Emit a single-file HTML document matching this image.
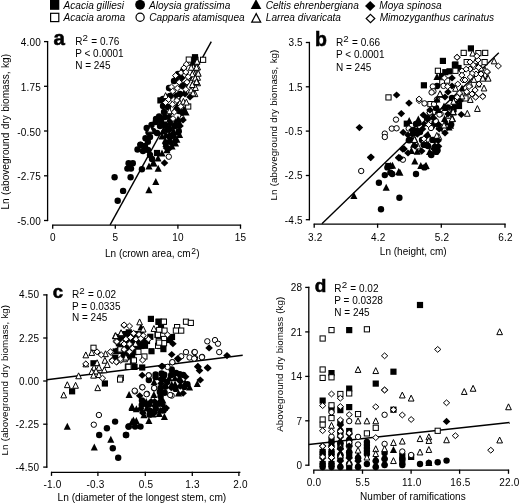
<!DOCTYPE html>
<html><head><meta charset="utf-8"><style>
html,body{margin:0;padding:0;background:#fff;}
svg{display:block;font-family:"Liberation Sans", sans-serif;filter:grayscale(100%);}
</style></head><body>
<svg width="519" height="503" viewBox="0 0 519 503">
<rect width="519" height="503" fill="#fff"/>
<rect x="50" y="-0.09999999999999964" width="9.3" height="9.9" fill="#000"/>
<text x="63.5" y="8.6" font-size="10.1" text-anchor="start" font-style="italic">Acacia gilliesi</text>
<rect x="50.6" y="13.3" width="8.2" height="8.3" fill="#fff" stroke="#000" stroke-width="1.2"/>
<text x="63.5" y="20.6" font-size="10.1" text-anchor="start" font-style="italic">Acacia aroma</text>
<circle cx="140.1" cy="4.8" r="4.9" fill="#000"/>
<text x="149" y="8.6" font-size="10.1" text-anchor="start" font-style="italic">Aloysia gratissima</text>
<circle cx="140.1" cy="17.3" r="4.1" fill="#fff" stroke="#000" stroke-width="1.2"/>
<text x="149.3" y="20.6" font-size="10.1" text-anchor="start" font-style="italic">Capparis atamisquea</text>
<polygon points="256,-0.9000000000000004 261.3,8.9 250.7,8.9" fill="#000"/>
<text x="265.7" y="8.6" font-size="10.1" text-anchor="start" font-style="italic">Celtis ehrenbergiana</text>
<polygon points="256.2,13.599999999999998 260.7,22.2 251.7,22.2" fill="#fff" stroke="#000" stroke-width="1.2"/>
<text x="265.8" y="20.6" font-size="10.1" text-anchor="start" font-style="italic">Larrea divaricata</text>
<polygon points="370.2,0.9000000000000004 375.4,5.9 370.2,10.9 365.0,5.9" fill="#000"/>
<text x="379.3" y="8.6" font-size="10.1" text-anchor="start" font-style="italic">Moya spinosa</text>
<polygon points="370.5,14.4 374.8,18.5 370.5,22.6 366.2,18.5" fill="#fff" stroke="#000" stroke-width="1.2"/>
<text x="379.7" y="20.6" font-size="10.1" text-anchor="start" font-style="italic">Mimozyganthus carinatus</text>
<line x1="47.6" y1="41.0" x2="47.6" y2="221.1" stroke="#000" stroke-width="1.3"/>
<line x1="44.0" y1="41.6" x2="48.1" y2="41.6" stroke="#000" stroke-width="1.3"/>
<text x="41.1" y="46.2" font-size="10" text-anchor="end" letter-spacing="0.2">4.00</text>
<line x1="44.0" y1="86.3" x2="48.1" y2="86.3" stroke="#000" stroke-width="1.3"/>
<text x="41.1" y="90.89999999999999" font-size="10" text-anchor="end" letter-spacing="0.2">1.75</text>
<line x1="44.0" y1="131.0" x2="48.1" y2="131.0" stroke="#000" stroke-width="1.3"/>
<text x="41.1" y="135.6" font-size="10" text-anchor="end" letter-spacing="0.2">-0.50</text>
<line x1="44.0" y1="175.8" x2="48.1" y2="175.8" stroke="#000" stroke-width="1.3"/>
<text x="41.1" y="180.4" font-size="10" text-anchor="end" letter-spacing="0.2">-2.75</text>
<line x1="44.0" y1="220.5" x2="48.1" y2="220.5" stroke="#000" stroke-width="1.3"/>
<text x="41.1" y="225.1" font-size="10" text-anchor="end" letter-spacing="0.2">-5.00</text>
<line x1="52.2" y1="225.2" x2="241.1" y2="225.2" stroke="#000" stroke-width="1.3"/>
<line x1="52.7" y1="224.7" x2="52.7" y2="228.79999999999998" stroke="#000" stroke-width="1.3"/>
<text x="52.800000000000004" y="240.89999999999998" font-size="10" text-anchor="middle" letter-spacing="0.2">0</text>
<line x1="115.3" y1="224.7" x2="115.3" y2="228.79999999999998" stroke="#000" stroke-width="1.3"/>
<text x="115.39999999999999" y="240.89999999999998" font-size="10" text-anchor="middle" letter-spacing="0.2">5</text>
<line x1="177.9" y1="224.7" x2="177.9" y2="228.79999999999998" stroke="#000" stroke-width="1.3"/>
<text x="178.0" y="240.89999999999998" font-size="10" text-anchor="middle" letter-spacing="0.2">10</text>
<line x1="240.5" y1="224.7" x2="240.5" y2="228.79999999999998" stroke="#000" stroke-width="1.3"/>
<text x="240.6" y="240.89999999999998" font-size="10" text-anchor="middle" letter-spacing="0.2">15</text>
<text x="0" y="0" font-size="10.1" text-anchor="middle" word-spacing="0.6" transform="translate(8.8,131.8) rotate(-90)">Ln (aboveground dry biomass, kg)</text>
<text x="152.3" y="257.0" font-size="10" text-anchor="middle">Ln (crown area, cm<tspan font-size="8.5" dy="-3.5" dx="0.6">2</tspan><tspan dy="3.5" dx="0.3">)</tspan></text>
<text x="53.6" y="44.6" font-size="20.5" font-weight="bold" stroke="#000" stroke-width="0.55">a</text>
<text x="75.2" y="44.5" font-size="10">R<tspan font-size="9.8" dy="-3.9" dx="0.1">2</tspan><tspan dy="3.9" dx="0.5"> = 0.76</tspan></text>
<text x="75.2" y="56.9" font-size="10" text-anchor="start" >P &lt; 0.0001</text>
<text x="75.2" y="69.0" font-size="10" text-anchor="start" >N = 245</text>
<line x1="309.4" y1="41.9" x2="309.4" y2="220.2" stroke="#000" stroke-width="1.3"/>
<line x1="305.79999999999995" y1="42.5" x2="309.9" y2="42.5" stroke="#000" stroke-width="1.3"/>
<text x="302.9" y="46.4" font-size="10" text-anchor="end" letter-spacing="0.2">3.5</text>
<line x1="305.79999999999995" y1="86.8" x2="309.9" y2="86.8" stroke="#000" stroke-width="1.3"/>
<text x="302.9" y="90.7" font-size="10" text-anchor="end" letter-spacing="0.2">1.5</text>
<line x1="305.79999999999995" y1="131.1" x2="309.9" y2="131.1" stroke="#000" stroke-width="1.3"/>
<text x="302.9" y="135.0" font-size="10" text-anchor="end" letter-spacing="0.2">-0.5</text>
<line x1="305.79999999999995" y1="175.5" x2="309.9" y2="175.5" stroke="#000" stroke-width="1.3"/>
<text x="302.9" y="179.4" font-size="10" text-anchor="end" letter-spacing="0.2">-2.5</text>
<line x1="305.79999999999995" y1="219.7" x2="309.9" y2="219.7" stroke="#000" stroke-width="1.3"/>
<text x="302.9" y="223.6" font-size="10" text-anchor="end" letter-spacing="0.2">-4.5</text>
<line x1="313.7" y1="224.2" x2="505.6" y2="224.2" stroke="#000" stroke-width="1.3"/>
<line x1="314.2" y1="223.7" x2="314.2" y2="227.79999999999998" stroke="#000" stroke-width="1.3"/>
<text x="315.2" y="240.89999999999998" font-size="10" text-anchor="middle" letter-spacing="0.2">3.2</text>
<line x1="377.6" y1="223.7" x2="377.6" y2="227.79999999999998" stroke="#000" stroke-width="1.3"/>
<text x="378.3" y="240.89999999999998" font-size="10" text-anchor="middle" letter-spacing="0.2">4.2</text>
<line x1="441.3" y1="223.7" x2="441.3" y2="227.79999999999998" stroke="#000" stroke-width="1.3"/>
<text x="442.0" y="240.89999999999998" font-size="10" text-anchor="middle" letter-spacing="0.2">5.2</text>
<line x1="505.0" y1="223.7" x2="505.0" y2="227.79999999999998" stroke="#000" stroke-width="1.3"/>
<text x="505.6" y="240.89999999999998" font-size="10" text-anchor="middle" letter-spacing="0.2">6.2</text>
<text x="0" y="0" font-size="9.77" text-anchor="middle" word-spacing="0.6" transform="translate(276.6,125.1) rotate(-90)">Ln (aboveground dry biomass, kg)</text>
<text x="413.2" y="255.4" font-size="10" text-anchor="middle">Ln (height, cm)</text>
<text x="315.0" y="45.5" font-size="19.5" font-weight="bold" stroke="#000" stroke-width="0.55">b</text>
<text x="336.0" y="45.6" font-size="10">R<tspan font-size="9.8" dy="-3.9" dx="0.1">2</tspan><tspan dy="3.9" dx="0.5"> = 0.66</tspan></text>
<text x="336.0" y="58.3" font-size="10" text-anchor="start" >P &lt; 0.0001</text>
<text x="336.0" y="70.5" font-size="10" text-anchor="start" >N = 245</text>
<line x1="46.8" y1="294.3" x2="46.8" y2="467.7" stroke="#000" stroke-width="1.3"/>
<line x1="43.199999999999996" y1="294.9" x2="47.3" y2="294.9" stroke="#000" stroke-width="1.3"/>
<text x="39.3" y="298.4" font-size="10" text-anchor="end" letter-spacing="0.2">4.50</text>
<line x1="43.199999999999996" y1="338.0" x2="47.3" y2="338.0" stroke="#000" stroke-width="1.3"/>
<text x="39.3" y="341.5" font-size="10" text-anchor="end" letter-spacing="0.2">2.25</text>
<line x1="43.199999999999996" y1="381.0" x2="47.3" y2="381.0" stroke="#000" stroke-width="1.3"/>
<text x="39.3" y="384.5" font-size="10" text-anchor="end" letter-spacing="0.2">0.00</text>
<line x1="43.199999999999996" y1="424.2" x2="47.3" y2="424.2" stroke="#000" stroke-width="1.3"/>
<text x="39.3" y="427.7" font-size="10" text-anchor="end" letter-spacing="0.2">-2.25</text>
<line x1="43.199999999999996" y1="467.1" x2="47.3" y2="467.1" stroke="#000" stroke-width="1.3"/>
<text x="39.3" y="470.6" font-size="10" text-anchor="end" letter-spacing="0.2">-4.50</text>
<line x1="51.0" y1="472.3" x2="240.4" y2="472.3" stroke="#000" stroke-width="1.3"/>
<line x1="51.5" y1="471.8" x2="51.5" y2="475.90000000000003" stroke="#000" stroke-width="1.3"/>
<text x="52.4" y="488.0" font-size="10" text-anchor="middle" letter-spacing="0.2">-1.0</text>
<line x1="97.9" y1="471.8" x2="97.9" y2="475.90000000000003" stroke="#000" stroke-width="1.3"/>
<text x="95.6" y="488.0" font-size="10" text-anchor="middle" letter-spacing="0.2">-0.3</text>
<line x1="145.3" y1="471.8" x2="145.3" y2="475.90000000000003" stroke="#000" stroke-width="1.3"/>
<text x="146.0" y="488.0" font-size="10" text-anchor="middle" letter-spacing="0.2">0.5</text>
<line x1="192.3" y1="471.8" x2="192.3" y2="475.90000000000003" stroke="#000" stroke-width="1.3"/>
<text x="192.6" y="488.0" font-size="10" text-anchor="middle" letter-spacing="0.2">1.3</text>
<line x1="238.9" y1="471.8" x2="238.9" y2="475.90000000000003" stroke="#000" stroke-width="1.3"/>
<text x="240.4" y="488.0" font-size="10" text-anchor="middle" letter-spacing="0.2">2.0</text>
<text x="0" y="0" font-size="9.77" text-anchor="middle" word-spacing="0.6" transform="translate(7.5,380.25) rotate(-90)">Ln (aboveground dry biomass, kg)</text>
<text x="141.9" y="500.6" font-size="10.2" text-anchor="middle">Ln (diameter of the longest stem, cm)</text>
<text x="52.8" y="297.8" font-size="18.6" font-weight="bold" stroke="#000" stroke-width="0.55">c</text>
<text x="72.0" y="297.5" font-size="10">R<tspan font-size="9.8" dy="-3.9" dx="0.1">2</tspan><tspan dy="3.9" dx="0.5"> = 0.02</tspan></text>
<text x="72.0" y="309.7" font-size="10" text-anchor="start" >P = 0.0335</text>
<text x="72.0" y="321.4" font-size="10" text-anchor="start" >N = 245</text>
<line x1="308.8" y1="286.8" x2="308.8" y2="465.8" stroke="#000" stroke-width="1.3"/>
<line x1="305.2" y1="287.4" x2="309.3" y2="287.4" stroke="#000" stroke-width="1.3"/>
<text x="302.3" y="291.2" font-size="10" text-anchor="end" letter-spacing="0.2">28</text>
<line x1="305.2" y1="331.9" x2="309.3" y2="331.9" stroke="#000" stroke-width="1.3"/>
<text x="302.3" y="335.7" font-size="10" text-anchor="end" letter-spacing="0.2">21</text>
<line x1="305.2" y1="376.4" x2="309.3" y2="376.4" stroke="#000" stroke-width="1.3"/>
<text x="302.3" y="380.2" font-size="10" text-anchor="end" letter-spacing="0.2">14</text>
<line x1="305.2" y1="420.8" x2="309.3" y2="420.8" stroke="#000" stroke-width="1.3"/>
<text x="302.3" y="424.6" font-size="10" text-anchor="end" letter-spacing="0.2">7</text>
<line x1="305.2" y1="465.2" x2="309.3" y2="465.2" stroke="#000" stroke-width="1.3"/>
<text x="302.3" y="469.0" font-size="10" text-anchor="end" letter-spacing="0.2">0</text>
<line x1="313.3" y1="470.2" x2="509.1" y2="470.2" stroke="#000" stroke-width="1.3"/>
<line x1="313.8" y1="469.7" x2="313.8" y2="473.8" stroke="#000" stroke-width="1.3"/>
<text x="313.9" y="485.9" font-size="10" text-anchor="middle" letter-spacing="0.2">0.0</text>
<line x1="362.5" y1="469.7" x2="362.5" y2="473.8" stroke="#000" stroke-width="1.3"/>
<text x="362.8" y="485.9" font-size="10" text-anchor="middle" letter-spacing="0.2">5.5</text>
<line x1="411.1" y1="469.7" x2="411.1" y2="473.8" stroke="#000" stroke-width="1.3"/>
<text x="411.7" y="485.9" font-size="10" text-anchor="middle" letter-spacing="0.2">11.0</text>
<line x1="459.6" y1="469.7" x2="459.6" y2="473.8" stroke="#000" stroke-width="1.3"/>
<text x="460.5" y="485.9" font-size="10" text-anchor="middle" letter-spacing="0.2">16.5</text>
<line x1="508.5" y1="469.7" x2="508.5" y2="473.8" stroke="#000" stroke-width="1.3"/>
<text x="509.4" y="485.9" font-size="10" text-anchor="middle" letter-spacing="0.2">22.0</text>
<text x="0" y="0" font-size="9.77" text-anchor="middle" word-spacing="0.6" transform="translate(283.4,364.25) rotate(-90)">Aboveground dry biomass (kg)</text>
<text x="412.9" y="499.9" font-size="10" text-anchor="middle">Number of ramifications</text>
<text x="314.8" y="292.4" font-size="19" font-weight="bold" stroke="#000" stroke-width="0.55">d</text>
<text x="334.3" y="291.5" font-size="10">R<tspan font-size="9.8" dy="-3.9" dx="0.1">2</tspan><tspan dy="3.9" dx="0.5"> = 0.02</tspan></text>
<text x="334.3" y="303.6" font-size="10" text-anchor="start" >P = 0.0328</text>
<text x="334.3" y="315.5" font-size="10" text-anchor="start" >N = 245</text>
<line x1="110.1" y1="224.9" x2="211.3" y2="41.7" stroke="#000" stroke-width="1.4"/>
<line x1="321.9" y1="223.7" x2="498.8" y2="52.7" stroke="#000" stroke-width="1.4"/>
<line x1="46.8" y1="379.8" x2="242.7" y2="355.3" stroke="#000" stroke-width="1.4"/>
<line x1="308.7" y1="444.5" x2="509.5" y2="422.5" stroke="#000" stroke-width="1.4"/>
<rect x="192.30" y="56.70" width="6.20" height="6.20" fill="#000"/>
<rect x="191.90" y="54.10" width="6.20" height="6.20" fill="#000"/>
<rect x="157.30" y="97.30" width="6.20" height="6.20" fill="#000"/>
<rect x="153.90" y="149.90" width="6.20" height="6.20" fill="#000"/>
<rect x="385.20" y="162.90" width="6.20" height="6.20" fill="#000"/>
<rect x="467.80" y="45.30" width="6.20" height="6.20" fill="#000"/>
<rect x="439.80" y="57.80" width="6.20" height="6.20" fill="#000"/>
<rect x="451.80" y="61.90" width="6.20" height="6.20" fill="#000"/>
<rect x="455.40" y="64.90" width="6.20" height="6.20" fill="#000"/>
<rect x="452.30" y="61.40" width="6.20" height="6.20" fill="#000"/>
<rect x="442.20" y="69.10" width="6.20" height="6.20" fill="#000"/>
<rect x="446.40" y="68.20" width="6.20" height="6.20" fill="#000"/>
<rect x="438.90" y="72.90" width="6.20" height="6.20" fill="#000"/>
<rect x="420.80" y="82.20" width="6.20" height="6.20" fill="#000"/>
<rect x="451.90" y="100.90" width="6.20" height="6.20" fill="#000"/>
<rect x="455.90" y="102.90" width="6.20" height="6.20" fill="#000"/>
<rect x="403.70" y="120.60" width="6.20" height="6.20" fill="#000"/>
<rect x="450.47" y="106.02" width="6.20" height="6.20" fill="#000"/>
<rect x="424.15" y="115.28" width="6.20" height="6.20" fill="#000"/>
<rect x="431.49" y="120.73" width="6.20" height="6.20" fill="#000"/>
<rect x="117.70" y="335.10" width="6.20" height="6.20" fill="#000"/>
<rect x="112.10" y="355.00" width="6.20" height="6.20" fill="#000"/>
<rect x="90.40" y="360.20" width="6.20" height="6.20" fill="#000"/>
<rect x="101.80" y="380.40" width="6.20" height="6.20" fill="#000"/>
<rect x="69.00" y="388.20" width="6.20" height="6.20" fill="#000"/>
<rect x="147.80" y="315.80" width="6.20" height="6.20" fill="#000"/>
<rect x="155.60" y="318.80" width="6.20" height="6.20" fill="#000"/>
<rect x="148.40" y="348.10" width="6.20" height="6.20" fill="#000"/>
<rect x="141.90" y="342.70" width="6.20" height="6.20" fill="#000"/>
<rect x="147.20" y="333.70" width="6.20" height="6.20" fill="#000"/>
<rect x="143.90" y="337.90" width="6.20" height="6.20" fill="#000"/>
<rect x="155.50" y="318.60" width="6.20" height="6.20" fill="#000"/>
<rect x="157.90" y="323.90" width="6.20" height="6.20" fill="#000"/>
<rect x="168.90" y="333.90" width="6.20" height="6.20" fill="#000"/>
<rect x="166.90" y="336.90" width="6.20" height="6.20" fill="#000"/>
<rect x="160.30" y="346.00" width="6.20" height="6.20" fill="#000"/>
<rect x="156.90" y="342.90" width="6.20" height="6.20" fill="#000"/>
<rect x="131.40" y="363.80" width="6.20" height="6.20" fill="#000"/>
<rect x="139.10" y="364.40" width="6.20" height="6.20" fill="#000"/>
<rect x="122.09" y="330.97" width="6.20" height="6.20" fill="#000"/>
<rect x="125.68" y="329.28" width="6.20" height="6.20" fill="#000"/>
<rect x="130.00" y="330.87" width="6.20" height="6.20" fill="#000"/>
<rect x="133.26" y="330.98" width="6.20" height="6.20" fill="#000"/>
<rect x="138.00" y="331.43" width="6.20" height="6.20" fill="#000"/>
<rect x="116.16" y="334.06" width="6.20" height="6.20" fill="#000"/>
<rect x="120.83" y="335.67" width="6.20" height="6.20" fill="#000"/>
<rect x="126.07" y="334.20" width="6.20" height="6.20" fill="#000"/>
<rect x="128.99" y="334.84" width="6.20" height="6.20" fill="#000"/>
<rect x="133.68" y="335.92" width="6.20" height="6.20" fill="#000"/>
<rect x="138.40" y="335.99" width="6.20" height="6.20" fill="#000"/>
<rect x="115.84" y="340.20" width="6.20" height="6.20" fill="#000"/>
<rect x="121.42" y="340.58" width="6.20" height="6.20" fill="#000"/>
<rect x="124.21" y="338.37" width="6.20" height="6.20" fill="#000"/>
<rect x="130.07" y="338.96" width="6.20" height="6.20" fill="#000"/>
<rect x="133.63" y="338.61" width="6.20" height="6.20" fill="#000"/>
<rect x="139.70" y="339.00" width="6.20" height="6.20" fill="#000"/>
<rect x="117.42" y="343.12" width="6.20" height="6.20" fill="#000"/>
<rect x="120.60" y="344.34" width="6.20" height="6.20" fill="#000"/>
<rect x="125.18" y="345.07" width="6.20" height="6.20" fill="#000"/>
<rect x="130.82" y="343.88" width="6.20" height="6.20" fill="#000"/>
<rect x="134.80" y="344.95" width="6.20" height="6.20" fill="#000"/>
<rect x="138.09" y="342.87" width="6.20" height="6.20" fill="#000"/>
<rect x="112.56" y="348.36" width="6.20" height="6.20" fill="#000"/>
<rect x="115.33" y="347.82" width="6.20" height="6.20" fill="#000"/>
<rect x="119.78" y="347.80" width="6.20" height="6.20" fill="#000"/>
<rect x="124.37" y="348.01" width="6.20" height="6.20" fill="#000"/>
<rect x="131.06" y="348.99" width="6.20" height="6.20" fill="#000"/>
<rect x="133.32" y="347.54" width="6.20" height="6.20" fill="#000"/>
<rect x="120.72" y="353.09" width="6.20" height="6.20" fill="#000"/>
<rect x="124.94" y="352.98" width="6.20" height="6.20" fill="#000"/>
<rect x="129.03" y="353.43" width="6.20" height="6.20" fill="#000"/>
<rect x="319.55" y="397.50" width="6.20" height="6.20" fill="#000"/>
<rect x="319.55" y="460.90" width="6.20" height="6.20" fill="#000"/>
<rect x="319.55" y="448.90" width="6.20" height="6.20" fill="#000"/>
<rect x="328.40" y="370.00" width="6.20" height="6.20" fill="#000"/>
<rect x="328.40" y="406.40" width="6.20" height="6.20" fill="#000"/>
<rect x="328.40" y="460.90" width="6.20" height="6.20" fill="#000"/>
<rect x="328.40" y="448.90" width="6.20" height="6.20" fill="#000"/>
<rect x="328.40" y="436.90" width="6.20" height="6.20" fill="#000"/>
<rect x="337.25" y="407.00" width="6.20" height="6.20" fill="#000"/>
<rect x="337.25" y="454.90" width="6.20" height="6.20" fill="#000"/>
<rect x="337.25" y="442.90" width="6.20" height="6.20" fill="#000"/>
<rect x="337.25" y="430.90" width="6.20" height="6.20" fill="#000"/>
<rect x="337.25" y="418.90" width="6.20" height="6.20" fill="#000"/>
<rect x="346.10" y="327.00" width="6.20" height="6.20" fill="#000"/>
<rect x="346.10" y="385.50" width="6.20" height="6.20" fill="#000"/>
<rect x="346.10" y="404.00" width="6.20" height="6.20" fill="#000"/>
<rect x="346.10" y="463.90" width="6.20" height="6.20" fill="#000"/>
<rect x="346.10" y="451.90" width="6.20" height="6.20" fill="#000"/>
<rect x="346.10" y="439.90" width="6.20" height="6.20" fill="#000"/>
<rect x="346.10" y="427.90" width="6.20" height="6.20" fill="#000"/>
<rect x="372.65" y="380.50" width="6.20" height="6.20" fill="#000"/>
<rect x="390.35" y="368.60" width="6.20" height="6.20" fill="#000"/>
<rect x="390.35" y="406.60" width="6.20" height="6.20" fill="#000"/>
<rect x="399.20" y="458.90" width="6.20" height="6.20" fill="#000"/>
<rect x="399.20" y="452.90" width="6.20" height="6.20" fill="#000"/>
<rect x="408.05" y="453.80" width="6.20" height="6.20" fill="#000"/>
<rect x="416.90" y="301.90" width="6.20" height="6.20" fill="#000"/>
<rect x="186.20" y="57.00" width="5.20" height="5.20" fill="#fff" stroke="#000" stroke-width="1.0"/>
<rect x="200.50" y="57.20" width="5.20" height="5.20" fill="#fff" stroke="#000" stroke-width="1.0"/>
<rect x="185.60" y="103.90" width="5.20" height="5.20" fill="#fff" stroke="#000" stroke-width="1.0"/>
<rect x="385.90" y="94.80" width="5.20" height="5.20" fill="#fff" stroke="#000" stroke-width="1.0"/>
<rect x="427.80" y="101.50" width="5.20" height="5.20" fill="#fff" stroke="#000" stroke-width="1.0"/>
<rect x="461.10" y="50.30" width="5.20" height="5.20" fill="#fff" stroke="#000" stroke-width="1.0"/>
<rect x="475.80" y="50.50" width="5.20" height="5.20" fill="#fff" stroke="#000" stroke-width="1.0"/>
<rect x="482.60" y="50.30" width="5.20" height="5.20" fill="#fff" stroke="#000" stroke-width="1.0"/>
<rect x="464.10" y="59.50" width="5.20" height="5.20" fill="#fff" stroke="#000" stroke-width="1.0"/>
<rect x="482.00" y="59.50" width="5.20" height="5.20" fill="#fff" stroke="#000" stroke-width="1.0"/>
<rect x="452.80" y="68.20" width="5.20" height="5.20" fill="#fff" stroke="#000" stroke-width="1.0"/>
<rect x="435.30" y="68.20" width="5.20" height="5.20" fill="#fff" stroke="#000" stroke-width="1.0"/>
<rect x="439.70" y="79.70" width="5.20" height="5.20" fill="#fff" stroke="#000" stroke-width="1.0"/>
<rect x="444.50" y="78.00" width="5.20" height="5.20" fill="#fff" stroke="#000" stroke-width="1.0"/>
<rect x="462.90" y="95.80" width="5.20" height="5.20" fill="#fff" stroke="#000" stroke-width="1.0"/>
<rect x="117.40" y="347.50" width="5.20" height="5.20" fill="#fff" stroke="#000" stroke-width="1.0"/>
<rect x="90.90" y="345.20" width="5.20" height="5.20" fill="#fff" stroke="#000" stroke-width="1.0"/>
<rect x="125.30" y="364.20" width="5.20" height="5.20" fill="#fff" stroke="#000" stroke-width="1.0"/>
<rect x="118.20" y="375.30" width="5.20" height="5.20" fill="#fff" stroke="#000" stroke-width="1.0"/>
<rect x="160.90" y="319.30" width="5.20" height="5.20" fill="#fff" stroke="#000" stroke-width="1.0"/>
<rect x="117.90" y="346.80" width="5.20" height="5.20" fill="#fff" stroke="#000" stroke-width="1.0"/>
<rect x="156.10" y="338.40" width="5.20" height="5.20" fill="#fff" stroke="#000" stroke-width="1.0"/>
<rect x="155.50" y="343.20" width="5.20" height="5.20" fill="#fff" stroke="#000" stroke-width="1.0"/>
<rect x="154.90" y="332.40" width="5.20" height="5.20" fill="#fff" stroke="#000" stroke-width="1.0"/>
<rect x="135.80" y="349.20" width="5.20" height="5.20" fill="#fff" stroke="#000" stroke-width="1.0"/>
<rect x="141.80" y="353.90" width="5.20" height="5.20" fill="#fff" stroke="#000" stroke-width="1.0"/>
<rect x="130.40" y="358.10" width="5.20" height="5.20" fill="#fff" stroke="#000" stroke-width="1.0"/>
<rect x="125.70" y="364.10" width="5.20" height="5.20" fill="#fff" stroke="#000" stroke-width="1.0"/>
<rect x="161.30" y="319.10" width="5.20" height="5.20" fill="#fff" stroke="#000" stroke-width="1.0"/>
<rect x="183.40" y="319.10" width="5.20" height="5.20" fill="#fff" stroke="#000" stroke-width="1.0"/>
<rect x="188.20" y="320.30" width="5.20" height="5.20" fill="#fff" stroke="#000" stroke-width="1.0"/>
<rect x="174.50" y="324.50" width="5.20" height="5.20" fill="#fff" stroke="#000" stroke-width="1.0"/>
<rect x="173.30" y="328.00" width="5.20" height="5.20" fill="#fff" stroke="#000" stroke-width="1.0"/>
<rect x="178.60" y="328.00" width="5.20" height="5.20" fill="#fff" stroke="#000" stroke-width="1.0"/>
<rect x="161.90" y="328.00" width="5.20" height="5.20" fill="#fff" stroke="#000" stroke-width="1.0"/>
<rect x="156.60" y="327.40" width="5.20" height="5.20" fill="#fff" stroke="#000" stroke-width="1.0"/>
<rect x="155.40" y="332.20" width="5.20" height="5.20" fill="#fff" stroke="#000" stroke-width="1.0"/>
<rect x="161.40" y="336.40" width="5.20" height="5.20" fill="#fff" stroke="#000" stroke-width="1.0"/>
<rect x="161.40" y="340.60" width="5.20" height="5.20" fill="#fff" stroke="#000" stroke-width="1.0"/>
<rect x="156.60" y="340.00" width="5.20" height="5.20" fill="#fff" stroke="#000" stroke-width="1.0"/>
<rect x="117.50" y="376.90" width="5.20" height="5.20" fill="#fff" stroke="#000" stroke-width="1.0"/>
<rect x="131.30" y="357.80" width="5.20" height="5.20" fill="#fff" stroke="#000" stroke-width="1.0"/>
<rect x="125.90" y="364.30" width="5.20" height="5.20" fill="#fff" stroke="#000" stroke-width="1.0"/>
<rect x="320.05" y="335.90" width="5.20" height="5.20" fill="#fff" stroke="#000" stroke-width="1.0"/>
<rect x="320.05" y="366.90" width="5.20" height="5.20" fill="#fff" stroke="#000" stroke-width="1.0"/>
<rect x="320.05" y="375.30" width="5.20" height="5.20" fill="#fff" stroke="#000" stroke-width="1.0"/>
<rect x="320.05" y="416.90" width="5.20" height="5.20" fill="#fff" stroke="#000" stroke-width="1.0"/>
<rect x="320.05" y="422.10" width="5.20" height="5.20" fill="#fff" stroke="#000" stroke-width="1.0"/>
<rect x="328.90" y="327.50" width="5.20" height="5.20" fill="#fff" stroke="#000" stroke-width="1.0"/>
<rect x="328.90" y="374.70" width="5.20" height="5.20" fill="#fff" stroke="#000" stroke-width="1.0"/>
<rect x="328.90" y="402.70" width="5.20" height="5.20" fill="#fff" stroke="#000" stroke-width="1.0"/>
<rect x="328.90" y="415.50" width="5.20" height="5.20" fill="#fff" stroke="#000" stroke-width="1.0"/>
<rect x="337.75" y="391.40" width="5.20" height="5.20" fill="#fff" stroke="#000" stroke-width="1.0"/>
<rect x="346.60" y="390.80" width="5.20" height="5.20" fill="#fff" stroke="#000" stroke-width="1.0"/>
<rect x="355.45" y="411.50" width="5.20" height="5.20" fill="#fff" stroke="#000" stroke-width="1.0"/>
<rect x="364.30" y="326.70" width="5.20" height="5.20" fill="#fff" stroke="#000" stroke-width="1.0"/>
<rect x="364.30" y="430.80" width="5.20" height="5.20" fill="#fff" stroke="#000" stroke-width="1.0"/>
<rect x="373.15" y="425.20" width="5.20" height="5.20" fill="#fff" stroke="#000" stroke-width="1.0"/>
<rect x="435.10" y="428.20" width="5.20" height="5.20" fill="#fff" stroke="#000" stroke-width="1.0"/>
<circle cx="183.00" cy="71.00" r="3.20" fill="#000"/>
<circle cx="178.00" cy="74.00" r="3.20" fill="#000"/>
<circle cx="176.00" cy="80.00" r="3.20" fill="#000"/>
<circle cx="174.00" cy="81.00" r="3.20" fill="#000"/>
<circle cx="169.00" cy="88.00" r="3.20" fill="#000"/>
<circle cx="180.00" cy="94.00" r="3.20" fill="#000"/>
<circle cx="170.00" cy="96.00" r="3.20" fill="#000"/>
<circle cx="163.00" cy="99.00" r="3.20" fill="#000"/>
<circle cx="163.00" cy="106.00" r="3.20" fill="#000"/>
<circle cx="168.00" cy="107.00" r="3.20" fill="#000"/>
<circle cx="164.00" cy="112.00" r="3.20" fill="#000"/>
<circle cx="179.00" cy="111.00" r="3.20" fill="#000"/>
<circle cx="165.00" cy="117.00" r="3.20" fill="#000"/>
<circle cx="156.00" cy="119.00" r="3.20" fill="#000"/>
<circle cx="161.00" cy="121.00" r="3.20" fill="#000"/>
<circle cx="159.10" cy="116.50" r="3.20" fill="#000"/>
<circle cx="160.00" cy="126.00" r="3.20" fill="#000"/>
<circle cx="155.60" cy="122.10" r="3.20" fill="#000"/>
<circle cx="151.50" cy="125.00" r="3.20" fill="#000"/>
<circle cx="153.00" cy="131.00" r="3.20" fill="#000"/>
<circle cx="157.00" cy="133.00" r="3.20" fill="#000"/>
<circle cx="146.70" cy="128.00" r="3.20" fill="#000"/>
<circle cx="148.50" cy="132.20" r="3.20" fill="#000"/>
<circle cx="150.00" cy="137.00" r="3.20" fill="#000"/>
<circle cx="145.50" cy="138.20" r="3.20" fill="#000"/>
<circle cx="145.00" cy="146.00" r="3.20" fill="#000"/>
<circle cx="140.40" cy="144.60" r="3.20" fill="#000"/>
<circle cx="147.90" cy="141.80" r="3.20" fill="#000"/>
<circle cx="137.50" cy="149.50" r="3.20" fill="#000"/>
<circle cx="143.00" cy="151.00" r="3.20" fill="#000"/>
<circle cx="148.00" cy="150.00" r="3.20" fill="#000"/>
<circle cx="150.00" cy="155.00" r="3.20" fill="#000"/>
<circle cx="152.00" cy="159.00" r="3.20" fill="#000"/>
<circle cx="140.60" cy="145.00" r="3.20" fill="#000"/>
<circle cx="128.60" cy="163.30" r="3.20" fill="#000"/>
<circle cx="132.80" cy="163.30" r="3.20" fill="#000"/>
<circle cx="127.40" cy="168.60" r="3.20" fill="#000"/>
<circle cx="131.00" cy="168.60" r="3.20" fill="#000"/>
<circle cx="130.00" cy="166.00" r="3.20" fill="#000"/>
<circle cx="141.90" cy="169.20" r="3.20" fill="#000"/>
<circle cx="114.60" cy="177.20" r="3.20" fill="#000"/>
<circle cx="130.60" cy="177.20" r="3.20" fill="#000"/>
<circle cx="123.10" cy="190.90" r="3.20" fill="#000"/>
<circle cx="117.70" cy="200.80" r="3.20" fill="#000"/>
<circle cx="170.39" cy="120.58" r="3.20" fill="#000"/>
<circle cx="164.98" cy="125.06" r="3.20" fill="#000"/>
<circle cx="174.54" cy="126.28" r="3.20" fill="#000"/>
<circle cx="178.80" cy="131.19" r="3.20" fill="#000"/>
<circle cx="169.94" cy="135.96" r="3.20" fill="#000"/>
<circle cx="165.79" cy="143.23" r="3.20" fill="#000"/>
<circle cx="381.00" cy="209.30" r="3.20" fill="#000"/>
<circle cx="424.40" cy="167.40" r="3.20" fill="#000"/>
<circle cx="416.00" cy="174.00" r="3.20" fill="#000"/>
<circle cx="392.20" cy="174.00" r="3.20" fill="#000"/>
<circle cx="387.40" cy="167.40" r="3.20" fill="#000"/>
<circle cx="390.40" cy="172.60" r="3.20" fill="#000"/>
<circle cx="384.80" cy="175.10" r="3.20" fill="#000"/>
<circle cx="378.90" cy="182.70" r="3.20" fill="#000"/>
<circle cx="399.40" cy="197.70" r="3.20" fill="#000"/>
<circle cx="437.00" cy="86.00" r="3.20" fill="#000"/>
<circle cx="452.00" cy="98.00" r="3.20" fill="#000"/>
<circle cx="451.20" cy="124.60" r="3.20" fill="#000"/>
<circle cx="436.00" cy="108.00" r="3.20" fill="#000"/>
<circle cx="427.00" cy="118.00" r="3.20" fill="#000"/>
<circle cx="432.00" cy="126.00" r="3.20" fill="#000"/>
<circle cx="416.00" cy="124.00" r="3.20" fill="#000"/>
<circle cx="420.00" cy="132.00" r="3.20" fill="#000"/>
<circle cx="434.00" cy="140.00" r="3.20" fill="#000"/>
<circle cx="422.00" cy="140.00" r="3.20" fill="#000"/>
<circle cx="428.00" cy="146.00" r="3.20" fill="#000"/>
<circle cx="410.00" cy="140.00" r="3.20" fill="#000"/>
<circle cx="430.90" cy="154.30" r="3.20" fill="#000"/>
<circle cx="436.30" cy="151.90" r="3.20" fill="#000"/>
<circle cx="424.40" cy="144.80" r="3.20" fill="#000"/>
<circle cx="435.10" cy="147.20" r="3.20" fill="#000"/>
<circle cx="435.50" cy="150.80" r="3.20" fill="#000"/>
<circle cx="431.30" cy="155.00" r="3.20" fill="#000"/>
<circle cx="423.60" cy="144.80" r="3.20" fill="#000"/>
<circle cx="447.89" cy="107.51" r="3.20" fill="#000"/>
<circle cx="418.23" cy="123.17" r="3.20" fill="#000"/>
<circle cx="413.00" cy="133.63" r="3.20" fill="#000"/>
<circle cx="408.85" cy="140.32" r="3.20" fill="#000"/>
<circle cx="432.36" cy="139.89" r="3.20" fill="#000"/>
<circle cx="437.56" cy="150.21" r="3.20" fill="#000"/>
<circle cx="148.80" cy="380.00" r="3.20" fill="#000"/>
<circle cx="163.70" cy="375.90" r="3.20" fill="#000"/>
<circle cx="154.20" cy="412.30" r="3.20" fill="#000"/>
<circle cx="128.60" cy="426.60" r="3.20" fill="#000"/>
<circle cx="135.10" cy="426.60" r="3.20" fill="#000"/>
<circle cx="140.50" cy="426.60" r="3.20" fill="#000"/>
<circle cx="126.20" cy="435.00" r="3.20" fill="#000"/>
<circle cx="115.10" cy="421.60" r="3.20" fill="#000"/>
<circle cx="106.90" cy="428.20" r="3.20" fill="#000"/>
<circle cx="99.20" cy="435.00" r="3.20" fill="#000"/>
<circle cx="112.80" cy="448.20" r="3.20" fill="#000"/>
<circle cx="118.20" cy="457.80" r="3.20" fill="#000"/>
<circle cx="125.90" cy="435.00" r="3.20" fill="#000"/>
<circle cx="128.70" cy="426.50" r="3.20" fill="#000"/>
<circle cx="171.73" cy="369.45" r="3.20" fill="#000"/>
<circle cx="155.58" cy="374.49" r="3.20" fill="#000"/>
<circle cx="161.55" cy="373.43" r="3.20" fill="#000"/>
<circle cx="164.31" cy="374.71" r="3.20" fill="#000"/>
<circle cx="171.22" cy="374.98" r="3.20" fill="#000"/>
<circle cx="176.12" cy="372.97" r="3.20" fill="#000"/>
<circle cx="179.72" cy="374.13" r="3.20" fill="#000"/>
<circle cx="183.25" cy="375.01" r="3.20" fill="#000"/>
<circle cx="155.60" cy="377.14" r="3.20" fill="#000"/>
<circle cx="167.17" cy="381.89" r="3.20" fill="#000"/>
<circle cx="187.41" cy="384.14" r="3.20" fill="#000"/>
<circle cx="160.53" cy="388.01" r="3.20" fill="#000"/>
<circle cx="165.24" cy="386.85" r="3.20" fill="#000"/>
<circle cx="175.57" cy="388.89" r="3.20" fill="#000"/>
<circle cx="184.30" cy="387.12" r="3.20" fill="#000"/>
<circle cx="159.80" cy="391.98" r="3.20" fill="#000"/>
<circle cx="164.69" cy="392.69" r="3.20" fill="#000"/>
<circle cx="160.57" cy="396.31" r="3.20" fill="#000"/>
<circle cx="141.95" cy="400.47" r="3.20" fill="#000"/>
<circle cx="141.74" cy="404.88" r="3.20" fill="#000"/>
<circle cx="148.89" cy="404.75" r="3.20" fill="#000"/>
<circle cx="159.07" cy="403.87" r="3.20" fill="#000"/>
<circle cx="150.08" cy="410.89" r="3.20" fill="#000"/>
<circle cx="155.84" cy="408.64" r="3.20" fill="#000"/>
<circle cx="163.44" cy="410.39" r="3.20" fill="#000"/>
<circle cx="149.65" cy="414.67" r="3.20" fill="#000"/>
<circle cx="322.65" cy="467.00" r="3.20" fill="#000"/>
<circle cx="322.65" cy="455.00" r="3.20" fill="#000"/>
<circle cx="331.50" cy="467.00" r="3.20" fill="#000"/>
<circle cx="331.50" cy="455.00" r="3.20" fill="#000"/>
<circle cx="331.50" cy="443.00" r="3.20" fill="#000"/>
<circle cx="340.35" cy="467.00" r="3.20" fill="#000"/>
<circle cx="340.35" cy="455.00" r="3.20" fill="#000"/>
<circle cx="340.35" cy="443.00" r="3.20" fill="#000"/>
<circle cx="340.35" cy="431.00" r="3.20" fill="#000"/>
<circle cx="349.20" cy="464.00" r="3.20" fill="#000"/>
<circle cx="349.20" cy="452.00" r="3.20" fill="#000"/>
<circle cx="349.20" cy="440.00" r="3.20" fill="#000"/>
<circle cx="358.05" cy="467.00" r="3.20" fill="#000"/>
<circle cx="358.05" cy="458.00" r="3.20" fill="#000"/>
<circle cx="366.90" cy="454.00" r="3.20" fill="#000"/>
<circle cx="366.90" cy="451.00" r="3.20" fill="#000"/>
<circle cx="366.90" cy="448.00" r="3.20" fill="#000"/>
<circle cx="366.90" cy="445.00" r="3.20" fill="#000"/>
<circle cx="366.90" cy="442.00" r="3.20" fill="#000"/>
<circle cx="366.90" cy="464.00" r="3.20" fill="#000"/>
<circle cx="375.75" cy="467.00" r="3.20" fill="#000"/>
<circle cx="375.75" cy="461.00" r="3.20" fill="#000"/>
<circle cx="384.60" cy="465.00" r="3.20" fill="#000"/>
<circle cx="384.60" cy="459.00" r="3.20" fill="#000"/>
<circle cx="384.60" cy="453.00" r="3.20" fill="#000"/>
<circle cx="402.30" cy="465.00" r="3.20" fill="#000"/>
<circle cx="402.30" cy="459.00" r="3.20" fill="#000"/>
<circle cx="420.00" cy="464.00" r="3.20" fill="#000"/>
<circle cx="428.85" cy="462.90" r="3.20" fill="#000"/>
<circle cx="437.70" cy="462.20" r="3.20" fill="#000"/>
<circle cx="446.55" cy="460.60" r="3.20" fill="#000"/>
<circle cx="168.80" cy="156.70" r="2.70" fill="#fff" stroke="#000" stroke-width="1.0"/>
<circle cx="361.20" cy="171.00" r="2.70" fill="#fff" stroke="#000" stroke-width="1.0"/>
<circle cx="384.80" cy="133.60" r="2.70" fill="#fff" stroke="#000" stroke-width="1.0"/>
<circle cx="384.80" cy="137.00" r="2.70" fill="#fff" stroke="#000" stroke-width="1.0"/>
<circle cx="391.80" cy="128.60" r="2.70" fill="#fff" stroke="#000" stroke-width="1.0"/>
<circle cx="396.60" cy="128.30" r="2.70" fill="#fff" stroke="#000" stroke-width="1.0"/>
<circle cx="396.00" cy="119.60" r="2.70" fill="#fff" stroke="#000" stroke-width="1.0"/>
<circle cx="424.50" cy="103.40" r="2.70" fill="#fff" stroke="#000" stroke-width="1.0"/>
<circle cx="434.00" cy="104.10" r="2.70" fill="#fff" stroke="#000" stroke-width="1.0"/>
<circle cx="402.90" cy="159.70" r="2.70" fill="#fff" stroke="#000" stroke-width="1.0"/>
<circle cx="432.80" cy="86.50" r="2.70" fill="#fff" stroke="#000" stroke-width="1.0"/>
<circle cx="433.40" cy="91.30" r="2.70" fill="#fff" stroke="#000" stroke-width="1.0"/>
<circle cx="443.50" cy="85.90" r="2.70" fill="#fff" stroke="#000" stroke-width="1.0"/>
<circle cx="431.60" cy="92.40" r="2.70" fill="#fff" stroke="#000" stroke-width="1.0"/>
<circle cx="437.00" cy="99.50" r="2.70" fill="#fff" stroke="#000" stroke-width="1.0"/>
<circle cx="429.80" cy="112.70" r="2.70" fill="#fff" stroke="#000" stroke-width="1.0"/>
<circle cx="440.60" cy="113.90" r="2.70" fill="#fff" stroke="#000" stroke-width="1.0"/>
<circle cx="435.80" cy="121.00" r="2.70" fill="#fff" stroke="#000" stroke-width="1.0"/>
<circle cx="408.70" cy="128.50" r="2.70" fill="#fff" stroke="#000" stroke-width="1.0"/>
<circle cx="429.80" cy="112.40" r="2.70" fill="#fff" stroke="#000" stroke-width="1.0"/>
<circle cx="439.50" cy="114.50" r="2.70" fill="#fff" stroke="#000" stroke-width="1.0"/>
<circle cx="431.00" cy="128.00" r="2.70" fill="#fff" stroke="#000" stroke-width="1.0"/>
<circle cx="181.20" cy="356.30" r="2.70" fill="#fff" stroke="#000" stroke-width="1.0"/>
<circle cx="186.00" cy="352.10" r="2.70" fill="#fff" stroke="#000" stroke-width="1.0"/>
<circle cx="194.40" cy="352.10" r="2.70" fill="#fff" stroke="#000" stroke-width="1.0"/>
<circle cx="189.60" cy="357.50" r="2.70" fill="#fff" stroke="#000" stroke-width="1.0"/>
<circle cx="195.00" cy="358.10" r="2.70" fill="#fff" stroke="#000" stroke-width="1.0"/>
<circle cx="202.10" cy="356.90" r="2.70" fill="#fff" stroke="#000" stroke-width="1.0"/>
<circle cx="207.30" cy="341.30" r="2.70" fill="#fff" stroke="#000" stroke-width="1.0"/>
<circle cx="215.00" cy="340.10" r="2.70" fill="#fff" stroke="#000" stroke-width="1.0"/>
<circle cx="218.00" cy="343.70" r="2.70" fill="#fff" stroke="#000" stroke-width="1.0"/>
<circle cx="219.20" cy="352.10" r="2.70" fill="#fff" stroke="#000" stroke-width="1.0"/>
<circle cx="194.80" cy="352.10" r="2.70" fill="#fff" stroke="#000" stroke-width="1.0"/>
<circle cx="194.20" cy="358.60" r="2.70" fill="#fff" stroke="#000" stroke-width="1.0"/>
<circle cx="201.90" cy="357.20" r="2.70" fill="#fff" stroke="#000" stroke-width="1.0"/>
<circle cx="172.30" cy="362.30" r="2.70" fill="#fff" stroke="#000" stroke-width="1.0"/>
<circle cx="148.80" cy="375.30" r="2.70" fill="#fff" stroke="#000" stroke-width="1.0"/>
<circle cx="142.20" cy="387.20" r="2.70" fill="#fff" stroke="#000" stroke-width="1.0"/>
<circle cx="135.00" cy="391.40" r="2.70" fill="#fff" stroke="#000" stroke-width="1.0"/>
<circle cx="154.10" cy="388.40" r="2.70" fill="#fff" stroke="#000" stroke-width="1.0"/>
<circle cx="147.00" cy="393.80" r="2.70" fill="#fff" stroke="#000" stroke-width="1.0"/>
<circle cx="167.50" cy="366.90" r="2.70" fill="#fff" stroke="#000" stroke-width="1.0"/>
<circle cx="172.30" cy="362.20" r="2.70" fill="#fff" stroke="#000" stroke-width="1.0"/>
<circle cx="171.70" cy="395.60" r="2.70" fill="#fff" stroke="#000" stroke-width="1.0"/>
<circle cx="98.90" cy="415.00" r="2.70" fill="#fff" stroke="#000" stroke-width="1.0"/>
<circle cx="93.80" cy="424.70" r="2.70" fill="#fff" stroke="#000" stroke-width="1.0"/>
<circle cx="148.70" cy="375.40" r="2.70" fill="#fff" stroke="#000" stroke-width="1.0"/>
<circle cx="142.40" cy="387.30" r="2.70" fill="#fff" stroke="#000" stroke-width="1.0"/>
<circle cx="134.70" cy="390.70" r="2.70" fill="#fff" stroke="#000" stroke-width="1.0"/>
<circle cx="146.60" cy="394.20" r="2.70" fill="#fff" stroke="#000" stroke-width="1.0"/>
<circle cx="154.20" cy="388.00" r="2.70" fill="#fff" stroke="#000" stroke-width="1.0"/>
<circle cx="170.20" cy="395.00" r="2.70" fill="#fff" stroke="#000" stroke-width="1.0"/>
<circle cx="331.50" cy="412.20" r="2.70" fill="#fff" stroke="#000" stroke-width="1.0"/>
<circle cx="331.50" cy="436.60" r="2.70" fill="#fff" stroke="#000" stroke-width="1.0"/>
<circle cx="349.20" cy="421.10" r="2.70" fill="#fff" stroke="#000" stroke-width="1.0"/>
<circle cx="349.20" cy="442.60" r="2.70" fill="#fff" stroke="#000" stroke-width="1.0"/>
<circle cx="349.20" cy="446.80" r="2.70" fill="#fff" stroke="#000" stroke-width="1.0"/>
<circle cx="358.05" cy="436.90" r="2.70" fill="#fff" stroke="#000" stroke-width="1.0"/>
<circle cx="358.05" cy="444.50" r="2.70" fill="#fff" stroke="#000" stroke-width="1.0"/>
<circle cx="384.60" cy="414.80" r="2.70" fill="#fff" stroke="#000" stroke-width="1.0"/>
<circle cx="384.60" cy="443.90" r="2.70" fill="#fff" stroke="#000" stroke-width="1.0"/>
<circle cx="402.30" cy="451.50" r="2.70" fill="#fff" stroke="#000" stroke-width="1.0"/>
<circle cx="411.15" cy="455.00" r="2.70" fill="#fff" stroke="#000" stroke-width="1.0"/>
<polygon points="192.50,59.00 196.05,66.00 188.95,66.00" fill="#000"/>
<polygon points="184.00,105.50 187.55,112.50 180.45,112.50" fill="#000"/>
<polygon points="186.00,108.50 189.55,115.50 182.45,115.50" fill="#000"/>
<polygon points="178.00,115.50 181.55,122.50 174.45,122.50" fill="#000"/>
<polygon points="165.00,120.50 168.55,127.50 161.45,127.50" fill="#000"/>
<polygon points="175.00,121.50 178.55,128.50 171.45,128.50" fill="#000"/>
<polygon points="163.00,127.50 166.55,134.50 159.45,134.50" fill="#000"/>
<polygon points="173.00,129.50 176.55,136.50 169.45,136.50" fill="#000"/>
<polygon points="178.00,128.50 181.55,135.50 174.45,135.50" fill="#000"/>
<polygon points="162.00,132.50 165.55,139.50 158.45,139.50" fill="#000"/>
<polygon points="176.90,135.80 180.45,142.80 173.35,142.80" fill="#000"/>
<polygon points="166.00,140.10 169.55,147.10 162.45,147.10" fill="#000"/>
<polygon points="172.00,142.50 175.55,149.50 168.45,149.50" fill="#000"/>
<polygon points="166.90,146.20 170.45,153.20 163.35,153.20" fill="#000"/>
<polygon points="162.00,149.50 165.55,156.50 158.45,156.50" fill="#000"/>
<polygon points="158.00,154.50 161.55,161.50 154.45,161.50" fill="#000"/>
<polygon points="149.00,162.50 152.55,169.50 145.45,169.50" fill="#000"/>
<polygon points="153.90,159.40 157.45,166.40 150.35,166.40" fill="#000"/>
<polygon points="158.20,164.70 161.75,171.70 154.65,171.70" fill="#000"/>
<polygon points="155.80,178.10 159.35,185.10 152.25,185.10" fill="#000"/>
<polygon points="148.90,186.20 152.45,193.20 145.35,193.20" fill="#000"/>
<polygon points="153.10,159.20 156.65,166.20 149.55,166.20" fill="#000"/>
<polygon points="175.43,118.31 178.98,125.31 171.88,125.31" fill="#000"/>
<polygon points="179.25,118.66 182.80,125.66 175.70,125.66" fill="#000"/>
<polygon points="169.65,122.68 173.20,129.68 166.10,129.68" fill="#000"/>
<polygon points="173.56,127.13 177.11,134.13 170.01,134.13" fill="#000"/>
<polygon points="165.87,130.93 169.42,137.93 162.32,137.93" fill="#000"/>
<polygon points="174.34,131.63 177.89,138.63 170.79,138.63" fill="#000"/>
<polygon points="179.56,131.04 183.11,138.04 176.01,138.04" fill="#000"/>
<polygon points="165.32,136.85 168.87,143.85 161.77,143.85" fill="#000"/>
<polygon points="169.49,135.20 173.04,142.20 165.94,142.20" fill="#000"/>
<polygon points="174.43,135.97 177.98,142.97 170.88,142.97" fill="#000"/>
<polygon points="175.50,139.54 179.05,146.54 171.95,146.54" fill="#000"/>
<polygon points="353.90,192.10 357.45,199.10 350.35,199.10" fill="#000"/>
<polygon points="414.80,157.40 418.35,164.40 411.25,164.40" fill="#000"/>
<polygon points="420.80,162.10 424.35,169.10 417.25,169.10" fill="#000"/>
<polygon points="426.20,162.10 429.75,169.10 422.65,169.10" fill="#000"/>
<polygon points="399.90,168.70 403.45,175.70 396.35,175.70" fill="#000"/>
<polygon points="390.40,162.10 393.95,169.10 386.85,169.10" fill="#000"/>
<polygon points="392.50,161.80 396.05,168.80 388.95,168.80" fill="#000"/>
<polygon points="398.70,168.10 402.25,175.10 395.15,175.10" fill="#000"/>
<polygon points="386.20,183.80 389.75,190.80 382.65,190.80" fill="#000"/>
<polygon points="477.00,60.50 480.55,67.50 473.45,67.50" fill="#000"/>
<polygon points="437.00,72.90 440.55,79.90 433.45,79.90" fill="#000"/>
<polygon points="462.00,84.50 465.55,91.50 458.45,91.50" fill="#000"/>
<polygon points="437.00,95.50 440.55,102.50 433.45,102.50" fill="#000"/>
<polygon points="444.00,102.50 447.55,109.50 440.45,109.50" fill="#000"/>
<polygon points="433.00,112.50 436.55,119.50 429.45,119.50" fill="#000"/>
<polygon points="446.00,118.50 449.55,125.50 442.45,125.50" fill="#000"/>
<polygon points="428.00,130.50 431.55,137.50 424.45,137.50" fill="#000"/>
<polygon points="449.00,123.50 452.55,130.50 445.45,130.50" fill="#000"/>
<polygon points="413.00,136.10 416.55,143.10 409.45,143.10" fill="#000"/>
<polygon points="417.20,147.80 420.75,154.80 413.65,154.80" fill="#000"/>
<polygon points="425.40,162.20 428.95,169.20 421.85,169.20" fill="#000"/>
<polygon points="409.20,117.10 412.75,124.10 405.65,124.10" fill="#000"/>
<polygon points="438.38,106.00 441.93,113.00 434.83,113.00" fill="#000"/>
<polygon points="445.29,104.00 448.84,111.00 441.74,111.00" fill="#000"/>
<polygon points="418.32,115.45 421.87,122.45 414.77,122.45" fill="#000"/>
<polygon points="444.56,114.99 448.11,121.99 441.01,121.99" fill="#000"/>
<polygon points="450.52,121.63 454.07,128.63 446.97,128.63" fill="#000"/>
<polygon points="413.58,140.81 417.13,147.81 410.03,147.81" fill="#000"/>
<polygon points="428.04,140.60 431.59,147.60 424.49,147.60" fill="#000"/>
<polygon points="411.40,146.97 414.95,153.97 407.85,153.97" fill="#000"/>
<polygon points="429.57,147.89 433.12,154.89 426.02,154.89" fill="#000"/>
<polygon points="141.00,323.50 144.55,330.50 137.45,330.50" fill="#000"/>
<polygon points="197.30,380.10 200.85,387.10 193.75,387.10" fill="#000"/>
<polygon points="154.10,378.30 157.65,385.30 150.55,385.30" fill="#000"/>
<polygon points="129.10,390.90 132.65,397.90 125.55,397.90" fill="#000"/>
<polygon points="132.10,404.00 135.65,411.00 128.55,411.00" fill="#000"/>
<polygon points="164.30,404.00 167.85,411.00 160.75,411.00" fill="#000"/>
<polygon points="164.40,403.40 167.95,410.40 160.85,410.40" fill="#000"/>
<polygon points="164.40,413.00 167.95,420.00 160.85,420.00" fill="#000"/>
<polygon points="148.90,417.10 152.45,424.10 145.35,424.10" fill="#000"/>
<polygon points="133.40,416.50 136.95,423.50 129.85,423.50" fill="#000"/>
<polygon points="136.30,417.10 139.85,424.10 132.75,424.10" fill="#000"/>
<polygon points="67.30,422.70 70.85,429.70 63.75,429.70" fill="#000"/>
<polygon points="110.80,435.80 114.35,442.80 107.25,442.80" fill="#000"/>
<polygon points="94.30,443.50 97.85,450.50 90.75,450.50" fill="#000"/>
<polygon points="132.00,418.10 135.55,425.10 128.45,425.10" fill="#000"/>
<polygon points="132.00,402.70 135.55,409.70 128.45,409.70" fill="#000"/>
<polygon points="164.31,375.23 167.86,382.23 160.76,382.23" fill="#000"/>
<polygon points="169.10,374.27 172.65,381.27 165.55,381.27" fill="#000"/>
<polygon points="174.94,374.15 178.49,381.15 171.39,381.15" fill="#000"/>
<polygon points="179.52,373.73 183.07,380.73 175.97,380.73" fill="#000"/>
<polygon points="171.69,380.63 175.24,387.63 168.14,387.63" fill="#000"/>
<polygon points="175.04,380.48 178.59,387.48 171.49,387.48" fill="#000"/>
<polygon points="185.04,378.90 188.59,385.90 181.49,385.90" fill="#000"/>
<polygon points="189.52,383.43 193.07,390.43 185.97,390.43" fill="#000"/>
<polygon points="178.55,389.53 182.10,396.53 175.00,396.53" fill="#000"/>
<polygon points="153.91,390.88 157.46,397.88 150.36,397.88" fill="#000"/>
<polygon points="146.18,397.94 149.73,404.94 142.63,404.94" fill="#000"/>
<polygon points="160.43,395.29 163.98,402.29 156.88,402.29" fill="#000"/>
<polygon points="162.83,396.49 166.38,403.49 159.28,403.49" fill="#000"/>
<polygon points="136.36,405.32 139.91,412.32 132.81,412.32" fill="#000"/>
<polygon points="146.70,404.56 150.25,411.56 143.15,411.56" fill="#000"/>
<polygon points="160.18,406.41 163.73,413.41 156.63,413.41" fill="#000"/>
<polygon points="143.96,411.24 147.51,418.24 140.41,418.24" fill="#000"/>
<polygon points="152.96,410.61 156.51,417.61 149.41,417.61" fill="#000"/>
<polygon points="159.27,410.08 162.82,417.08 155.72,417.08" fill="#000"/>
<polygon points="322.65,457.50 326.20,464.50 319.10,464.50" fill="#000"/>
<polygon points="322.65,445.50 326.20,452.50 319.10,452.50" fill="#000"/>
<polygon points="331.50,457.50 335.05,464.50 327.95,464.50" fill="#000"/>
<polygon points="331.50,445.50 335.05,452.50 327.95,452.50" fill="#000"/>
<polygon points="340.35,460.50 343.90,467.50 336.80,467.50" fill="#000"/>
<polygon points="340.35,448.50 343.90,455.50 336.80,455.50" fill="#000"/>
<polygon points="340.35,436.50 343.90,443.50 336.80,443.50" fill="#000"/>
<polygon points="340.35,424.50 343.90,431.50 336.80,431.50" fill="#000"/>
<polygon points="349.20,457.50 352.75,464.50 345.65,464.50" fill="#000"/>
<polygon points="349.20,445.50 352.75,452.50 345.65,452.50" fill="#000"/>
<polygon points="349.20,433.50 352.75,440.50 345.65,440.50" fill="#000"/>
<polygon points="358.05,460.50 361.60,467.50 354.50,467.50" fill="#000"/>
<polygon points="358.05,451.50 361.60,458.50 354.50,458.50" fill="#000"/>
<polygon points="375.75,460.50 379.30,467.50 372.20,467.50" fill="#000"/>
<polygon points="375.75,454.50 379.30,461.50 372.20,461.50" fill="#000"/>
<polygon points="384.60,458.50 388.15,465.50 381.05,465.50" fill="#000"/>
<polygon points="384.60,452.50 388.15,459.50 381.05,459.50" fill="#000"/>
<polygon points="393.45,445.90 397.00,452.90 389.90,452.90" fill="#000"/>
<polygon points="428.85,459.00 432.40,466.00 425.30,466.00" fill="#000"/>
<polygon points="193.40,64.05 196.25,69.95 190.55,69.95" fill="#fff" stroke="#000" stroke-width="1.0"/>
<polygon points="197.70,64.05 200.55,69.95 194.85,69.95" fill="#fff" stroke="#000" stroke-width="1.0"/>
<polygon points="193.40,69.45 196.25,75.35 190.55,75.35" fill="#fff" stroke="#000" stroke-width="1.0"/>
<polygon points="197.70,69.45 200.55,75.35 194.85,75.35" fill="#fff" stroke="#000" stroke-width="1.0"/>
<polygon points="193.40,74.35 196.25,80.25 190.55,80.25" fill="#fff" stroke="#000" stroke-width="1.0"/>
<polygon points="197.70,74.35 200.55,80.25 194.85,80.25" fill="#fff" stroke="#000" stroke-width="1.0"/>
<polygon points="193.40,79.85 196.25,85.75 190.55,85.75" fill="#fff" stroke="#000" stroke-width="1.0"/>
<polygon points="197.70,79.85 200.55,85.75 194.85,85.75" fill="#fff" stroke="#000" stroke-width="1.0"/>
<polygon points="195.50,84.55 198.35,90.45 192.65,90.45" fill="#fff" stroke="#000" stroke-width="1.0"/>
<polygon points="191.00,87.05 193.85,92.95 188.15,92.95" fill="#fff" stroke="#000" stroke-width="1.0"/>
<polygon points="195.00,90.75 197.85,96.65 192.15,96.65" fill="#fff" stroke="#000" stroke-width="1.0"/>
<polygon points="197.10,58.35 199.95,64.25 194.25,64.25" fill="#fff" stroke="#000" stroke-width="1.0"/>
<polygon points="191.20,64.35 194.05,70.25 188.35,70.25" fill="#fff" stroke="#000" stroke-width="1.0"/>
<polygon points="196.50,64.35 199.35,70.25 193.65,70.25" fill="#fff" stroke="#000" stroke-width="1.0"/>
<polygon points="192.30,70.95 195.15,76.85 189.45,76.85" fill="#fff" stroke="#000" stroke-width="1.0"/>
<polygon points="198.30,70.35 201.15,76.25 195.45,76.25" fill="#fff" stroke="#000" stroke-width="1.0"/>
<polygon points="195.30,75.05 198.15,80.95 192.45,80.95" fill="#fff" stroke="#000" stroke-width="1.0"/>
<polygon points="196.50,78.65 199.35,84.55 193.65,84.55" fill="#fff" stroke="#000" stroke-width="1.0"/>
<polygon points="192.30,81.65 195.15,87.55 189.45,87.55" fill="#fff" stroke="#000" stroke-width="1.0"/>
<polygon points="193.00,90.05 195.85,95.95 190.15,95.95" fill="#fff" stroke="#000" stroke-width="1.0"/>
<polygon points="165.60,92.65 168.45,98.55 162.75,98.55" fill="#fff" stroke="#000" stroke-width="1.0"/>
<polygon points="179.90,99.65 182.75,105.55 177.05,105.55" fill="#fff" stroke="#000" stroke-width="1.0"/>
<polygon points="183.40,98.35 186.25,104.25 180.55,104.25" fill="#fff" stroke="#000" stroke-width="1.0"/>
<polygon points="186.40,99.15 189.25,105.05 183.55,105.05" fill="#fff" stroke="#000" stroke-width="1.0"/>
<polygon points="169.50,107.85 172.35,113.75 166.65,113.75" fill="#fff" stroke="#000" stroke-width="1.0"/>
<polygon points="182.10,113.05 184.95,118.95 179.25,118.95" fill="#fff" stroke="#000" stroke-width="1.0"/>
<polygon points="150.30,126.25 153.15,132.15 147.45,132.15" fill="#fff" stroke="#000" stroke-width="1.0"/>
<polygon points="481.00,65.05 483.85,70.95 478.15,70.95" fill="#fff" stroke="#000" stroke-width="1.0"/>
<polygon points="485.00,67.05 487.85,72.95 482.15,72.95" fill="#fff" stroke="#000" stroke-width="1.0"/>
<polygon points="470.00,81.05 472.85,86.95 467.15,86.95" fill="#fff" stroke="#000" stroke-width="1.0"/>
<polygon points="484.00,85.05 486.85,90.95 481.15,90.95" fill="#fff" stroke="#000" stroke-width="1.0"/>
<polygon points="462.00,93.05 464.85,98.95 459.15,98.95" fill="#fff" stroke="#000" stroke-width="1.0"/>
<polygon points="487.40,74.55 490.25,80.45 484.55,80.45" fill="#fff" stroke="#000" stroke-width="1.0"/>
<polygon points="482.90,74.55 485.75,80.45 480.05,80.45" fill="#fff" stroke="#000" stroke-width="1.0"/>
<polygon points="472.70,50.15 475.55,56.05 469.85,56.05" fill="#fff" stroke="#000" stroke-width="1.0"/>
<polygon points="475.60,57.95 478.45,63.85 472.75,63.85" fill="#fff" stroke="#000" stroke-width="1.0"/>
<polygon points="494.10,57.95 496.95,63.85 491.25,63.85" fill="#fff" stroke="#000" stroke-width="1.0"/>
<polygon points="478.00,81.05 480.85,86.95 475.15,86.95" fill="#fff" stroke="#000" stroke-width="1.0"/>
<polygon points="482.80,75.25 485.65,81.15 479.95,81.15" fill="#fff" stroke="#000" stroke-width="1.0"/>
<polygon points="488.20,75.25 491.05,81.15 485.35,81.15" fill="#fff" stroke="#000" stroke-width="1.0"/>
<polygon points="473.90,76.45 476.75,82.35 471.05,82.35" fill="#fff" stroke="#000" stroke-width="1.0"/>
<polygon points="466.70,88.35 469.55,94.25 463.85,94.25" fill="#fff" stroke="#000" stroke-width="1.0"/>
<polygon points="455.50,85.35 458.35,91.25 452.65,91.25" fill="#fff" stroke="#000" stroke-width="1.0"/>
<polygon points="440.60,91.35 443.45,97.25 437.75,97.25" fill="#fff" stroke="#000" stroke-width="1.0"/>
<polygon points="440.00,90.65 442.85,96.55 437.15,96.55" fill="#fff" stroke="#000" stroke-width="1.0"/>
<polygon points="477.40,105.55 480.25,111.45 474.55,111.45" fill="#fff" stroke="#000" stroke-width="1.0"/>
<polygon points="467.30,110.35 470.15,116.25 464.45,116.25" fill="#fff" stroke="#000" stroke-width="1.0"/>
<polygon points="453.60,109.15 456.45,115.05 450.75,115.05" fill="#fff" stroke="#000" stroke-width="1.0"/>
<polygon points="453.60,98.35 456.45,104.25 450.75,104.25" fill="#fff" stroke="#000" stroke-width="1.0"/>
<polygon points="470.30,96.55 473.15,102.45 467.45,102.45" fill="#fff" stroke="#000" stroke-width="1.0"/>
<polygon points="452.40,115.65 455.25,121.55 449.55,121.55" fill="#fff" stroke="#000" stroke-width="1.0"/>
<polygon points="448.90,108.55 451.75,114.45 446.05,114.45" fill="#fff" stroke="#000" stroke-width="1.0"/>
<polygon points="453.10,108.55 455.95,114.45 450.25,114.45" fill="#fff" stroke="#000" stroke-width="1.0"/>
<polygon points="449.50,112.05 452.35,117.95 446.65,117.95" fill="#fff" stroke="#000" stroke-width="1.0"/>
<polygon points="452.50,115.65 455.35,121.55 449.65,121.55" fill="#fff" stroke="#000" stroke-width="1.0"/>
<polygon points="439.40,122.85 442.25,128.75 436.55,128.75" fill="#fff" stroke="#000" stroke-width="1.0"/>
<polygon points="444.10,125.25 446.95,131.15 441.25,131.15" fill="#fff" stroke="#000" stroke-width="1.0"/>
<polygon points="438.80,133.55 441.65,139.45 435.95,139.45" fill="#fff" stroke="#000" stroke-width="1.0"/>
<polygon points="414.90,136.55 417.75,142.45 412.05,142.45" fill="#fff" stroke="#000" stroke-width="1.0"/>
<polygon points="439.10,122.75 441.95,128.65 436.25,128.65" fill="#fff" stroke="#000" stroke-width="1.0"/>
<polygon points="444.50,125.15 447.35,131.05 441.65,131.05" fill="#fff" stroke="#000" stroke-width="1.0"/>
<polygon points="444.00,122.05 446.85,127.95 441.15,127.95" fill="#fff" stroke="#000" stroke-width="1.0"/>
<polygon points="436.80,132.45 439.65,138.35 433.95,138.35" fill="#fff" stroke="#000" stroke-width="1.0"/>
<polygon points="425.60,119.85 428.45,125.75 422.75,125.75" fill="#fff" stroke="#000" stroke-width="1.0"/>
<polygon points="414.50,136.55 417.35,142.45 411.65,142.45" fill="#fff" stroke="#000" stroke-width="1.0"/>
<polygon points="424.20,136.55 427.05,142.45 421.35,142.45" fill="#fff" stroke="#000" stroke-width="1.0"/>
<polygon points="448.60,112.25 451.45,118.15 445.75,118.15" fill="#fff" stroke="#000" stroke-width="1.0"/>
<polygon points="452.10,115.75 454.95,121.65 449.25,121.65" fill="#fff" stroke="#000" stroke-width="1.0"/>
<polygon points="418.00,143.05 420.85,148.95 415.15,148.95" fill="#fff" stroke="#000" stroke-width="1.0"/>
<polygon points="120.80,330.45 123.65,336.35 117.95,336.35" fill="#fff" stroke="#000" stroke-width="1.0"/>
<polygon points="115.20,332.85 118.05,338.75 112.35,338.75" fill="#fff" stroke="#000" stroke-width="1.0"/>
<polygon points="85.80,351.95 88.65,357.85 82.95,357.85" fill="#fff" stroke="#000" stroke-width="1.0"/>
<polygon points="91.80,349.55 94.65,355.45 88.95,355.45" fill="#fff" stroke="#000" stroke-width="1.0"/>
<polygon points="105.50,350.75 108.35,356.65 102.65,356.65" fill="#fff" stroke="#000" stroke-width="1.0"/>
<polygon points="124.80,355.85 127.65,361.75 121.95,361.75" fill="#fff" stroke="#000" stroke-width="1.0"/>
<polygon points="85.80,360.95 88.65,366.85 82.95,366.85" fill="#fff" stroke="#000" stroke-width="1.0"/>
<polygon points="97.10,359.75 99.95,365.65 94.25,365.65" fill="#fff" stroke="#000" stroke-width="1.0"/>
<polygon points="104.90,357.35 107.75,363.25 102.05,363.25" fill="#fff" stroke="#000" stroke-width="1.0"/>
<polygon points="107.30,361.55 110.15,367.45 104.45,367.45" fill="#fff" stroke="#000" stroke-width="1.0"/>
<polygon points="94.10,364.45 96.95,370.35 91.25,370.35" fill="#fff" stroke="#000" stroke-width="1.0"/>
<polygon points="98.90,364.45 101.75,370.35 96.05,370.35" fill="#fff" stroke="#000" stroke-width="1.0"/>
<polygon points="104.30,366.85 107.15,372.75 101.45,372.75" fill="#fff" stroke="#000" stroke-width="1.0"/>
<polygon points="91.80,368.65 94.65,374.55 88.95,374.55" fill="#fff" stroke="#000" stroke-width="1.0"/>
<polygon points="96.00,368.05 98.85,373.95 93.15,373.95" fill="#fff" stroke="#000" stroke-width="1.0"/>
<polygon points="93.50,372.25 96.35,378.15 90.65,378.15" fill="#fff" stroke="#000" stroke-width="1.0"/>
<polygon points="98.90,371.65 101.75,377.55 96.05,377.55" fill="#fff" stroke="#000" stroke-width="1.0"/>
<polygon points="97.70,384.75 100.55,390.65 94.85,390.65" fill="#fff" stroke="#000" stroke-width="1.0"/>
<polygon points="78.60,372.85 81.45,378.75 75.75,378.75" fill="#fff" stroke="#000" stroke-width="1.0"/>
<polygon points="67.30,381.75 70.15,387.65 64.45,387.65" fill="#fff" stroke="#000" stroke-width="1.0"/>
<polygon points="75.60,382.35 78.45,388.25 72.75,388.25" fill="#fff" stroke="#000" stroke-width="1.0"/>
<polygon points="63.70,391.95 66.55,397.85 60.85,397.85" fill="#fff" stroke="#000" stroke-width="1.0"/>
<polygon points="139.60,318.95 142.45,324.85 136.75,324.85" fill="#fff" stroke="#000" stroke-width="1.0"/>
<polygon points="153.90,325.55 156.75,331.45 151.05,331.45" fill="#fff" stroke="#000" stroke-width="1.0"/>
<polygon points="143.20,326.15 146.05,332.05 140.35,332.05" fill="#fff" stroke="#000" stroke-width="1.0"/>
<polygon points="121.10,329.75 123.95,335.65 118.25,335.65" fill="#fff" stroke="#000" stroke-width="1.0"/>
<polygon points="115.70,332.65 118.55,338.55 112.85,338.55" fill="#fff" stroke="#000" stroke-width="1.0"/>
<polygon points="135.40,340.45 138.25,346.35 132.55,346.35" fill="#fff" stroke="#000" stroke-width="1.0"/>
<polygon points="125.90,354.15 128.75,360.05 123.05,360.05" fill="#fff" stroke="#000" stroke-width="1.0"/>
<polygon points="331.50,422.35 334.35,428.25 328.65,428.25" fill="#fff" stroke="#000" stroke-width="1.0"/>
<polygon points="340.35,443.25 343.20,449.15 337.50,449.15" fill="#fff" stroke="#000" stroke-width="1.0"/>
<polygon points="340.35,452.15 343.20,458.05 337.50,458.05" fill="#fff" stroke="#000" stroke-width="1.0"/>
<polygon points="349.20,459.35 352.05,465.25 346.35,465.25" fill="#fff" stroke="#000" stroke-width="1.0"/>
<polygon points="358.05,366.55 360.90,372.45 355.20,372.45" fill="#fff" stroke="#000" stroke-width="1.0"/>
<polygon points="358.05,417.95 360.90,423.85 355.20,423.85" fill="#fff" stroke="#000" stroke-width="1.0"/>
<polygon points="358.05,447.15 360.90,453.05 355.20,453.05" fill="#fff" stroke="#000" stroke-width="1.0"/>
<polygon points="366.90,417.95 369.75,423.85 364.05,423.85" fill="#fff" stroke="#000" stroke-width="1.0"/>
<polygon points="366.90,454.15 369.75,460.05 364.05,460.05" fill="#fff" stroke="#000" stroke-width="1.0"/>
<polygon points="375.75,367.65 378.60,373.55 372.90,373.55" fill="#fff" stroke="#000" stroke-width="1.0"/>
<polygon points="375.75,417.85 378.60,423.75 372.90,423.75" fill="#fff" stroke="#000" stroke-width="1.0"/>
<polygon points="375.75,445.75 378.60,451.65 372.90,451.65" fill="#fff" stroke="#000" stroke-width="1.0"/>
<polygon points="375.75,450.65 378.60,456.55 372.90,456.55" fill="#fff" stroke="#000" stroke-width="1.0"/>
<polygon points="384.60,445.75 387.45,451.65 381.75,451.65" fill="#fff" stroke="#000" stroke-width="1.0"/>
<polygon points="393.45,439.55 396.30,445.45 390.60,445.45" fill="#fff" stroke="#000" stroke-width="1.0"/>
<polygon points="393.45,457.65 396.30,463.55 390.60,463.55" fill="#fff" stroke="#000" stroke-width="1.0"/>
<polygon points="402.30,392.05 405.15,397.95 399.45,397.95" fill="#fff" stroke="#000" stroke-width="1.0"/>
<polygon points="402.30,438.15 405.15,444.05 399.45,444.05" fill="#fff" stroke="#000" stroke-width="1.0"/>
<polygon points="411.15,395.15 414.00,401.05 408.30,401.05" fill="#fff" stroke="#000" stroke-width="1.0"/>
<polygon points="420.00,435.65 422.85,441.55 417.15,441.55" fill="#fff" stroke="#000" stroke-width="1.0"/>
<polygon points="420.00,449.05 422.85,454.95 417.15,454.95" fill="#fff" stroke="#000" stroke-width="1.0"/>
<polygon points="428.85,433.85 431.70,439.75 426.00,439.75" fill="#fff" stroke="#000" stroke-width="1.0"/>
<polygon points="428.85,437.55 431.70,443.45 426.00,443.45" fill="#fff" stroke="#000" stroke-width="1.0"/>
<polygon points="428.85,446.55 431.70,452.45 426.00,452.45" fill="#fff" stroke="#000" stroke-width="1.0"/>
<polygon points="446.55,436.85 449.40,442.75 443.70,442.75" fill="#fff" stroke="#000" stroke-width="1.0"/>
<polygon points="464.25,388.55 467.10,394.45 461.40,394.45" fill="#fff" stroke="#000" stroke-width="1.0"/>
<polygon points="473.10,385.35 475.95,391.25 470.25,391.25" fill="#fff" stroke="#000" stroke-width="1.0"/>
<polygon points="508.50,403.85 511.35,409.75 505.65,409.75" fill="#fff" stroke="#000" stroke-width="1.0"/>
<polygon points="499.65,437.05 502.50,442.95 496.80,442.95" fill="#fff" stroke="#000" stroke-width="1.0"/>
<polygon points="499.65,328.75 502.50,334.65 496.80,334.65" fill="#fff" stroke="#000" stroke-width="1.0"/>
<polygon points="179.00,71.45 182.80,75.00 179.00,78.55 175.20,75.00" fill="#000"/>
<polygon points="182.00,74.45 185.80,78.00 182.00,81.55 178.20,78.00" fill="#000"/>
<polygon points="183.00,81.45 186.80,85.00 183.00,88.55 179.20,85.00" fill="#000"/>
<polygon points="182.00,82.45 185.80,86.00 182.00,89.55 178.20,86.00" fill="#000"/>
<polygon points="185.00,90.45 188.80,94.00 185.00,97.55 181.20,94.00" fill="#000"/>
<polygon points="176.00,91.95 179.80,95.50 176.00,99.05 172.20,95.50" fill="#000"/>
<polygon points="190.00,93.45 193.80,97.00 190.00,100.55 186.20,97.00" fill="#000"/>
<polygon points="177.00,104.45 180.80,108.00 177.00,111.55 173.20,108.00" fill="#000"/>
<polygon points="182.00,109.45 185.80,113.00 182.00,116.55 178.20,113.00" fill="#000"/>
<polygon points="169.00,113.45 172.80,117.00 169.00,120.55 165.20,117.00" fill="#000"/>
<polygon points="183.00,116.45 186.80,120.00 183.00,123.55 179.20,120.00" fill="#000"/>
<polygon points="170.00,120.45 173.80,124.00 170.00,127.55 166.20,124.00" fill="#000"/>
<polygon points="180.00,122.45 183.80,126.00 180.00,129.55 176.20,126.00" fill="#000"/>
<polygon points="168.00,126.45 171.80,130.00 168.00,133.55 164.20,130.00" fill="#000"/>
<polygon points="170.00,134.45 173.80,138.00 170.00,141.55 166.20,138.00" fill="#000"/>
<polygon points="164.50,159.35 168.30,162.90 164.50,166.45 160.70,162.90" fill="#000"/>
<polygon points="178.01,121.62 181.81,125.17 178.01,128.72 174.21,125.17" fill="#000"/>
<polygon points="166.36,126.12 170.16,129.67 166.36,133.22 162.56,129.67" fill="#000"/>
<polygon points="169.63,126.41 173.43,129.96 169.63,133.51 165.83,129.96" fill="#000"/>
<polygon points="170.98,139.45 174.78,143.00 170.98,146.55 167.18,143.00" fill="#000"/>
<polygon points="166.48,144.38 170.28,147.93 166.48,151.48 162.68,147.93" fill="#000"/>
<polygon points="169.02,145.17 172.82,148.72 169.02,152.27 165.22,148.72" fill="#000"/>
<polygon points="359.40,124.05 363.20,127.60 359.40,131.15 355.60,127.60" fill="#000"/>
<polygon points="370.60,154.05 374.40,157.60 370.60,161.15 366.80,157.60" fill="#000"/>
<polygon points="396.60,91.45 400.40,95.00 396.60,98.55 392.80,95.00" fill="#000"/>
<polygon points="409.00,99.55 412.80,103.10 409.00,106.65 405.20,103.10" fill="#000"/>
<polygon points="401.30,110.05 405.10,113.60 401.30,117.15 397.50,113.60" fill="#000"/>
<polygon points="403.20,128.85 407.00,132.40 403.20,135.95 399.40,132.40" fill="#000"/>
<polygon points="371.00,153.55 374.80,157.10 371.00,160.65 367.20,157.10" fill="#000"/>
<polygon points="398.80,154.45 402.60,158.00 398.80,161.55 395.00,158.00" fill="#000"/>
<polygon points="404.10,145.35 407.90,148.90 404.10,152.45 400.30,148.90" fill="#000"/>
<polygon points="399.90,154.35 403.70,157.90 399.90,161.45 396.10,157.90" fill="#000"/>
<polygon points="398.70,154.05 402.50,157.60 398.70,161.15 394.90,157.60" fill="#000"/>
<polygon points="452.00,74.45 455.80,78.00 452.00,81.55 448.20,78.00" fill="#000"/>
<polygon points="452.00,82.45 455.80,86.00 452.00,89.55 448.20,86.00" fill="#000"/>
<polygon points="448.00,88.45 451.80,92.00 448.00,95.55 444.20,92.00" fill="#000"/>
<polygon points="445.00,93.45 448.80,97.00 445.00,100.55 441.20,97.00" fill="#000"/>
<polygon points="460.00,97.45 463.80,101.00 460.00,104.55 456.20,101.00" fill="#000"/>
<polygon points="461.30,110.95 465.10,114.50 461.30,118.05 457.50,114.50" fill="#000"/>
<polygon points="430.00,106.45 433.80,110.00 430.00,113.55 426.20,110.00" fill="#000"/>
<polygon points="448.00,110.45 451.80,114.00 448.00,117.55 444.20,114.00" fill="#000"/>
<polygon points="424.00,120.45 427.80,124.00 424.00,127.55 420.20,124.00" fill="#000"/>
<polygon points="412.00,126.45 415.80,130.00 412.00,133.55 408.20,130.00" fill="#000"/>
<polygon points="445.00,129.45 448.80,133.00 445.00,136.55 441.20,133.00" fill="#000"/>
<polygon points="415.00,142.45 418.80,146.00 415.00,149.55 411.20,146.00" fill="#000"/>
<polygon points="408.00,131.45 411.80,135.00 408.00,138.55 404.20,135.00" fill="#000"/>
<polygon points="402.80,145.65 406.60,149.20 402.80,152.75 399.00,149.20" fill="#000"/>
<polygon points="408.00,149.45 411.80,153.00 408.00,156.55 404.20,153.00" fill="#000"/>
<polygon points="423.35,111.46 427.15,115.01 423.35,118.56 419.55,115.01" fill="#000"/>
<polygon points="433.25,114.31 437.05,117.86 433.25,121.41 429.45,117.86" fill="#000"/>
<polygon points="438.76,121.08 442.56,124.63 438.76,128.18 434.96,124.63" fill="#000"/>
<polygon points="414.13,125.91 417.93,129.46 414.13,133.01 410.33,129.46" fill="#000"/>
<polygon points="417.42,126.72 421.22,130.27 417.42,133.82 413.62,130.27" fill="#000"/>
<polygon points="422.54,125.48 426.34,129.03 422.54,132.58 418.74,129.03" fill="#000"/>
<polygon points="439.24,125.41 443.04,128.96 439.24,132.51 435.44,128.96" fill="#000"/>
<polygon points="417.34,130.66 421.14,134.21 417.34,137.76 413.54,134.21" fill="#000"/>
<polygon points="427.11,131.99 430.91,135.54 427.11,139.09 423.31,135.54" fill="#000"/>
<polygon points="438.15,137.26 441.95,140.81 438.15,144.36 434.35,140.81" fill="#000"/>
<polygon points="434.83,142.59 438.63,146.14 434.83,149.69 431.03,146.14" fill="#000"/>
<polygon points="438.50,142.80 442.30,146.35 438.50,149.90 434.70,146.35" fill="#000"/>
<polygon points="421.71,147.56 425.51,151.11 421.71,154.66 417.91,151.11" fill="#000"/>
<polygon points="433.73,145.19 437.53,148.74 433.73,152.29 429.93,148.74" fill="#000"/>
<polygon points="172.90,340.25 176.70,343.80 172.90,347.35 169.10,343.80" fill="#000"/>
<polygon points="171.70,350.95 175.50,354.50 171.70,358.05 167.90,354.50" fill="#000"/>
<polygon points="178.30,355.75 182.10,359.30 178.30,362.85 174.50,359.30" fill="#000"/>
<polygon points="209.10,344.35 212.90,347.90 209.10,351.45 205.30,347.90" fill="#000"/>
<polygon points="227.00,352.05 230.80,355.60 227.00,359.15 223.20,355.60" fill="#000"/>
<polygon points="197.80,362.85 201.60,366.40 197.80,369.95 194.00,366.40" fill="#000"/>
<polygon points="199.50,367.05 203.30,370.60 199.50,374.15 195.70,370.60" fill="#000"/>
<polygon points="207.90,364.65 211.70,368.20 207.90,371.75 204.10,368.20" fill="#000"/>
<polygon points="200.30,376.45 204.10,380.00 200.30,383.55 196.50,380.00" fill="#000"/>
<polygon points="142.20,371.75 146.00,375.30 142.20,378.85 138.40,375.30" fill="#000"/>
<polygon points="162.50,362.75 166.30,366.30 162.50,369.85 158.70,366.30" fill="#000"/>
<polygon points="161.60,362.75 165.40,366.30 161.60,369.85 157.80,366.30" fill="#000"/>
<polygon points="177.70,355.05 181.50,358.60 177.70,362.15 173.90,358.60" fill="#000"/>
<polygon points="198.00,363.35 201.80,366.90 198.00,370.45 194.20,366.90" fill="#000"/>
<polygon points="207.50,363.95 211.30,367.50 207.50,371.05 203.70,367.50" fill="#000"/>
<polygon points="142.90,409.35 146.70,412.90 142.90,416.45 139.10,412.90" fill="#000"/>
<polygon points="166.20,404.55 170.00,408.10 166.20,411.65 162.40,408.10" fill="#000"/>
<polygon points="160.70,375.60 164.50,379.15 160.70,382.70 156.90,379.15" fill="#000"/>
<polygon points="185.63,373.22 189.43,376.77 185.63,380.32 181.83,376.77" fill="#000"/>
<polygon points="161.06,379.87 164.86,383.42 161.06,386.97 157.26,383.42" fill="#000"/>
<polygon points="180.43,378.07 184.23,381.62 180.43,385.17 176.63,381.62" fill="#000"/>
<polygon points="171.30,384.23 175.10,387.78 171.30,391.33 167.50,387.78" fill="#000"/>
<polygon points="180.26,382.59 184.06,386.14 180.26,389.69 176.46,386.14" fill="#000"/>
<polygon points="183.12,389.72 186.92,393.27 183.12,396.82 179.32,393.27" fill="#000"/>
<polygon points="139.68,392.21 143.48,395.76 139.68,399.31 135.88,395.76" fill="#000"/>
<polygon points="151.10,397.88 154.90,401.43 151.10,404.98 147.30,401.43" fill="#000"/>
<polygon points="154.63,398.06 158.43,401.61 154.63,405.16 150.83,401.61" fill="#000"/>
<polygon points="145.52,400.55 149.32,404.10 145.52,407.65 141.72,404.10" fill="#000"/>
<polygon points="154.69,402.25 158.49,405.80 154.69,409.35 150.89,405.80" fill="#000"/>
<polygon points="162.15,400.75 165.95,404.30 162.15,407.85 158.35,404.30" fill="#000"/>
<polygon points="140.68,405.22 144.48,408.77 140.68,412.32 136.88,408.77" fill="#000"/>
<polygon points="322.65,454.45 326.45,458.00 322.65,461.55 318.85,458.00" fill="#000"/>
<polygon points="322.65,442.45 326.45,446.00 322.65,449.55 318.85,446.00" fill="#000"/>
<polygon points="331.50,454.45 335.30,458.00 331.50,461.55 327.70,458.00" fill="#000"/>
<polygon points="331.50,442.45 335.30,446.00 331.50,449.55 327.70,446.00" fill="#000"/>
<polygon points="340.35,457.45 344.15,461.00 340.35,464.55 336.55,461.00" fill="#000"/>
<polygon points="340.35,445.45 344.15,449.00 340.35,452.55 336.55,449.00" fill="#000"/>
<polygon points="340.35,433.45 344.15,437.00 340.35,440.55 336.55,437.00" fill="#000"/>
<polygon points="340.35,421.45 344.15,425.00 340.35,428.55 336.55,425.00" fill="#000"/>
<polygon points="349.20,454.45 353.00,458.00 349.20,461.55 345.40,458.00" fill="#000"/>
<polygon points="349.20,442.45 353.00,446.00 349.20,449.55 345.40,446.00" fill="#000"/>
<polygon points="349.20,430.45 353.00,434.00 349.20,437.55 345.40,434.00" fill="#000"/>
<polygon points="358.05,457.45 361.85,461.00 358.05,464.55 354.25,461.00" fill="#000"/>
<polygon points="384.60,386.45 388.40,390.00 384.60,393.55 380.80,390.00" fill="#000"/>
<polygon points="446.55,417.85 450.35,421.40 446.55,424.95 442.75,421.40" fill="#000"/>
<polygon points="186.40,61.40 189.55,64.30 186.40,67.20 183.25,64.30" fill="#fff" stroke="#000" stroke-width="1.0"/>
<polygon points="184.00,65.00 187.15,67.90 184.00,70.80 180.85,67.90" fill="#fff" stroke="#000" stroke-width="1.0"/>
<polygon points="181.00,69.80 184.15,72.70 181.00,75.60 177.85,72.70" fill="#fff" stroke="#000" stroke-width="1.0"/>
<polygon points="185.80,69.20 188.95,72.10 185.80,75.00 182.65,72.10" fill="#fff" stroke="#000" stroke-width="1.0"/>
<polygon points="175.60,72.70 178.75,75.60 175.60,78.50 172.45,75.60" fill="#fff" stroke="#000" stroke-width="1.0"/>
<polygon points="188.20,73.90 191.35,76.80 188.20,79.70 185.05,76.80" fill="#fff" stroke="#000" stroke-width="1.0"/>
<polygon points="179.20,79.30 182.35,82.20 179.20,85.10 176.05,82.20" fill="#fff" stroke="#000" stroke-width="1.0"/>
<polygon points="187.00,79.30 190.15,82.20 187.00,85.10 183.85,82.20" fill="#fff" stroke="#000" stroke-width="1.0"/>
<polygon points="171.50,84.10 174.65,87.00 171.50,89.90 168.35,87.00" fill="#fff" stroke="#000" stroke-width="1.0"/>
<polygon points="177.40,85.30 180.55,88.20 177.40,91.10 174.25,88.20" fill="#fff" stroke="#000" stroke-width="1.0"/>
<polygon points="172.70,88.30 175.85,91.20 172.70,94.10 169.55,91.20" fill="#fff" stroke="#000" stroke-width="1.0"/>
<polygon points="185.80,86.50 188.95,89.40 185.80,92.30 182.65,89.40" fill="#fff" stroke="#000" stroke-width="1.0"/>
<polygon points="168.60,96.60 171.75,99.50 168.60,102.40 165.45,99.50" fill="#fff" stroke="#000" stroke-width="1.0"/>
<polygon points="173.40,97.10 176.55,100.00 173.40,102.90 170.25,100.00" fill="#fff" stroke="#000" stroke-width="1.0"/>
<polygon points="176.90,97.50 180.05,100.40 176.90,103.30 173.75,100.40" fill="#fff" stroke="#000" stroke-width="1.0"/>
<polygon points="165.60,99.70 168.75,102.60 165.60,105.50 162.45,102.60" fill="#fff" stroke="#000" stroke-width="1.0"/>
<polygon points="172.50,101.40 175.65,104.30 172.50,107.20 169.35,104.30" fill="#fff" stroke="#000" stroke-width="1.0"/>
<polygon points="180.80,103.60 183.95,106.50 180.80,109.40 177.65,106.50" fill="#fff" stroke="#000" stroke-width="1.0"/>
<polygon points="174.30,109.20 177.45,112.10 174.30,115.00 171.15,112.10" fill="#fff" stroke="#000" stroke-width="1.0"/>
<polygon points="173.00,115.70 176.15,118.60 173.00,121.50 169.85,118.60" fill="#fff" stroke="#000" stroke-width="1.0"/>
<polygon points="478.00,57.10 481.15,60.00 478.00,62.90 474.85,60.00" fill="#fff" stroke="#000" stroke-width="1.0"/>
<polygon points="470.00,59.10 473.15,62.00 470.00,64.90 466.85,62.00" fill="#fff" stroke="#000" stroke-width="1.0"/>
<polygon points="476.00,71.10 479.15,74.00 476.00,76.90 472.85,74.00" fill="#fff" stroke="#000" stroke-width="1.0"/>
<polygon points="463.00,77.10 466.15,80.00 463.00,82.90 459.85,80.00" fill="#fff" stroke="#000" stroke-width="1.0"/>
<polygon points="479.00,81.10 482.15,84.00 479.00,86.90 475.85,84.00" fill="#fff" stroke="#000" stroke-width="1.0"/>
<polygon points="472.00,91.10 475.15,94.00 472.00,96.90 468.85,94.00" fill="#fff" stroke="#000" stroke-width="1.0"/>
<polygon points="487.40,69.30 490.55,72.20 487.40,75.10 484.25,72.20" fill="#fff" stroke="#000" stroke-width="1.0"/>
<polygon points="474.00,63.90 477.15,66.80 474.00,69.70 470.85,66.80" fill="#fff" stroke="#000" stroke-width="1.0"/>
<polygon points="419.10,97.80 422.25,100.70 419.10,103.60 415.95,100.70" fill="#fff" stroke="#000" stroke-width="1.0"/>
<polygon points="476.80,53.20 479.95,56.10 476.80,59.00 473.65,56.10" fill="#fff" stroke="#000" stroke-width="1.0"/>
<polygon points="457.20,54.40 460.35,57.30 457.20,60.20 454.05,57.30" fill="#fff" stroke="#000" stroke-width="1.0"/>
<polygon points="457.00,54.40 460.15,57.30 457.00,60.20 453.85,57.30" fill="#fff" stroke="#000" stroke-width="1.0"/>
<polygon points="498.30,63.10 501.45,66.00 498.30,68.90 495.15,66.00" fill="#fff" stroke="#000" stroke-width="1.0"/>
<polygon points="470.00,66.10 473.15,69.00 470.00,71.90 466.85,69.00" fill="#fff" stroke="#000" stroke-width="1.0"/>
<polygon points="481.00,71.10 484.15,74.00 481.00,76.90 477.85,74.00" fill="#fff" stroke="#000" stroke-width="1.0"/>
<polygon points="473.30,62.10 476.45,65.00 473.30,67.90 470.15,65.00" fill="#fff" stroke="#000" stroke-width="1.0"/>
<polygon points="478.60,64.50 481.75,67.40 478.60,70.30 475.45,67.40" fill="#fff" stroke="#000" stroke-width="1.0"/>
<polygon points="466.10,66.30 469.25,69.20 466.10,72.10 462.95,69.20" fill="#fff" stroke="#000" stroke-width="1.0"/>
<polygon points="461.90,68.10 465.05,71.00 461.90,73.90 458.75,71.00" fill="#fff" stroke="#000" stroke-width="1.0"/>
<polygon points="472.10,70.50 475.25,73.40 472.10,76.30 468.95,73.40" fill="#fff" stroke="#000" stroke-width="1.0"/>
<polygon points="487.00,68.70 490.15,71.60 487.00,74.50 483.85,71.60" fill="#fff" stroke="#000" stroke-width="1.0"/>
<polygon points="465.00,77.10 468.15,80.00 465.00,82.90 461.85,80.00" fill="#fff" stroke="#000" stroke-width="1.0"/>
<polygon points="461.90,72.30 465.05,75.20 461.90,78.10 458.75,75.20" fill="#fff" stroke="#000" stroke-width="1.0"/>
<polygon points="470.30,74.10 473.45,77.00 470.30,79.90 467.15,77.00" fill="#fff" stroke="#000" stroke-width="1.0"/>
<polygon points="444.40,75.00 447.55,77.90 444.40,80.80 441.25,77.90" fill="#fff" stroke="#000" stroke-width="1.0"/>
<polygon points="447.70,83.60 450.85,86.50 447.70,89.40 444.55,86.50" fill="#fff" stroke="#000" stroke-width="1.0"/>
<polygon points="457.80,81.20 460.95,84.10 457.80,87.00 454.65,84.10" fill="#fff" stroke="#000" stroke-width="1.0"/>
<polygon points="469.10,83.60 472.25,86.50 469.10,89.40 465.95,86.50" fill="#fff" stroke="#000" stroke-width="1.0"/>
<polygon points="475.10,87.20 478.25,90.10 475.10,93.00 471.95,90.10" fill="#fff" stroke="#000" stroke-width="1.0"/>
<polygon points="482.80,93.20 485.95,96.10 482.80,99.00 479.65,96.10" fill="#fff" stroke="#000" stroke-width="1.0"/>
<polygon points="459.50,90.20 462.65,93.10 459.50,96.00 456.35,93.10" fill="#fff" stroke="#000" stroke-width="1.0"/>
<polygon points="475.60,93.80 478.75,96.70 475.60,99.60 472.45,96.70" fill="#fff" stroke="#000" stroke-width="1.0"/>
<polygon points="419.10,96.10 422.25,99.00 419.10,101.90 415.95,99.00" fill="#fff" stroke="#000" stroke-width="1.0"/>
<polygon points="482.80,93.70 485.95,96.60 482.80,99.50 479.65,96.60" fill="#fff" stroke="#000" stroke-width="1.0"/>
<polygon points="475.60,94.30 478.75,97.20 475.60,100.10 472.45,97.20" fill="#fff" stroke="#000" stroke-width="1.0"/>
<polygon points="457.20,94.30 460.35,97.20 457.20,100.10 454.05,97.20" fill="#fff" stroke="#000" stroke-width="1.0"/>
<polygon points="466.70,88.90 469.85,91.80 466.70,94.70 463.55,91.80" fill="#fff" stroke="#000" stroke-width="1.0"/>
<polygon points="428.60,121.70 431.75,124.60 428.60,127.50 425.45,124.60" fill="#fff" stroke="#000" stroke-width="1.0"/>
<polygon points="423.90,136.00 427.05,138.90 423.90,141.80 420.75,138.90" fill="#fff" stroke="#000" stroke-width="1.0"/>
<polygon points="124.00,322.50 127.15,325.40 124.00,328.30 120.85,325.40" fill="#fff" stroke="#000" stroke-width="1.0"/>
<polygon points="116.00,338.50 119.15,341.40 116.00,344.30 112.85,341.40" fill="#fff" stroke="#000" stroke-width="1.0"/>
<polygon points="122.40,340.10 125.55,343.00 122.40,345.90 119.25,343.00" fill="#fff" stroke="#000" stroke-width="1.0"/>
<polygon points="126.30,336.10 129.45,339.00 126.30,341.90 123.15,339.00" fill="#fff" stroke="#000" stroke-width="1.0"/>
<polygon points="124.00,347.20 127.15,350.10 124.00,353.00 120.85,350.10" fill="#fff" stroke="#000" stroke-width="1.0"/>
<polygon points="97.10,349.00 100.25,351.90 97.10,354.80 93.95,351.90" fill="#fff" stroke="#000" stroke-width="1.0"/>
<polygon points="101.30,352.00 104.45,354.90 101.30,357.80 98.15,354.90" fill="#fff" stroke="#000" stroke-width="1.0"/>
<polygon points="111.20,349.60 114.35,352.50 111.20,355.40 108.05,352.50" fill="#fff" stroke="#000" stroke-width="1.0"/>
<polygon points="112.00,357.50 115.15,360.40 112.00,363.30 108.85,360.40" fill="#fff" stroke="#000" stroke-width="1.0"/>
<polygon points="116.80,359.10 119.95,362.00 116.80,364.90 113.65,362.00" fill="#fff" stroke="#000" stroke-width="1.0"/>
<polygon points="120.80,357.50 123.95,360.40 120.80,363.30 117.65,360.40" fill="#fff" stroke="#000" stroke-width="1.0"/>
<polygon points="85.80,361.00 88.95,363.90 85.80,366.80 82.65,363.90" fill="#fff" stroke="#000" stroke-width="1.0"/>
<polygon points="102.50,375.30 105.65,378.20 102.50,381.10 99.35,378.20" fill="#fff" stroke="#000" stroke-width="1.0"/>
<polygon points="124.10,322.00 127.25,324.90 124.10,327.80 120.95,324.90" fill="#fff" stroke="#000" stroke-width="1.0"/>
<polygon points="129.50,323.20 132.65,326.10 129.50,329.00 126.35,326.10" fill="#fff" stroke="#000" stroke-width="1.0"/>
<polygon points="133.60,330.40 136.75,333.30 133.60,336.20 130.45,333.30" fill="#fff" stroke="#000" stroke-width="1.0"/>
<polygon points="139.00,331.60 142.15,334.50 139.00,337.40 135.85,334.50" fill="#fff" stroke="#000" stroke-width="1.0"/>
<polygon points="143.20,332.70 146.35,335.60 143.20,338.50 140.05,335.60" fill="#fff" stroke="#000" stroke-width="1.0"/>
<polygon points="130.60,334.50 133.75,337.40 130.60,340.30 127.45,337.40" fill="#fff" stroke="#000" stroke-width="1.0"/>
<polygon points="125.90,336.30 129.05,339.20 125.90,342.10 122.75,339.20" fill="#fff" stroke="#000" stroke-width="1.0"/>
<polygon points="136.00,336.30 139.15,339.20 136.00,342.10 132.85,339.20" fill="#fff" stroke="#000" stroke-width="1.0"/>
<polygon points="140.80,335.70 143.95,338.60 140.80,341.50 137.65,338.60" fill="#fff" stroke="#000" stroke-width="1.0"/>
<polygon points="148.50,336.30 151.65,339.20 148.50,342.10 145.35,339.20" fill="#fff" stroke="#000" stroke-width="1.0"/>
<polygon points="116.90,338.70 120.05,341.60 116.90,344.50 113.75,341.60" fill="#fff" stroke="#000" stroke-width="1.0"/>
<polygon points="124.10,341.10 127.25,344.00 124.10,346.90 120.95,344.00" fill="#fff" stroke="#000" stroke-width="1.0"/>
<polygon points="129.50,341.10 132.65,344.00 129.50,346.90 126.35,344.00" fill="#fff" stroke="#000" stroke-width="1.0"/>
<polygon points="124.10,346.50 127.25,349.40 124.10,352.30 120.95,349.40" fill="#fff" stroke="#000" stroke-width="1.0"/>
<polygon points="132.40,345.30 135.55,348.20 132.40,351.10 129.25,348.20" fill="#fff" stroke="#000" stroke-width="1.0"/>
<polygon points="129.50,348.90 132.65,351.80 129.50,354.70 126.35,351.80" fill="#fff" stroke="#000" stroke-width="1.0"/>
<polygon points="142.60,357.20 145.75,360.10 142.60,363.00 139.45,360.10" fill="#fff" stroke="#000" stroke-width="1.0"/>
<polygon points="110.40,348.90 113.55,351.80 110.40,354.70 107.25,351.80" fill="#fff" stroke="#000" stroke-width="1.0"/>
<polygon points="112.20,357.80 115.35,360.70 112.20,363.60 109.05,360.70" fill="#fff" stroke="#000" stroke-width="1.0"/>
<polygon points="116.30,359.00 119.45,361.90 116.30,364.80 113.15,361.90" fill="#fff" stroke="#000" stroke-width="1.0"/>
<polygon points="120.50,356.00 123.65,358.90 120.50,361.80 117.35,358.90" fill="#fff" stroke="#000" stroke-width="1.0"/>
<polygon points="167.50,331.90 170.65,334.80 167.50,337.70 164.35,334.80" fill="#fff" stroke="#000" stroke-width="1.0"/>
<polygon points="322.65,402.70 325.80,405.60 322.65,408.50 319.50,405.60" fill="#fff" stroke="#000" stroke-width="1.0"/>
<polygon points="322.65,427.80 325.80,430.70 322.65,433.60 319.50,430.70" fill="#fff" stroke="#000" stroke-width="1.0"/>
<polygon points="322.65,443.30 325.80,446.20 322.65,449.10 319.50,446.20" fill="#fff" stroke="#000" stroke-width="1.0"/>
<polygon points="322.65,454.00 325.80,456.90 322.65,459.80 319.50,456.90" fill="#fff" stroke="#000" stroke-width="1.0"/>
<polygon points="331.50,391.10 334.65,394.00 331.50,396.90 328.35,394.00" fill="#fff" stroke="#000" stroke-width="1.0"/>
<polygon points="331.50,428.40 334.65,431.30 331.50,434.20 328.35,431.30" fill="#fff" stroke="#000" stroke-width="1.0"/>
<polygon points="331.50,444.50 334.65,447.40 331.50,450.30 328.35,447.40" fill="#fff" stroke="#000" stroke-width="1.0"/>
<polygon points="331.50,454.60 334.65,457.50 331.50,460.40 328.35,457.50" fill="#fff" stroke="#000" stroke-width="1.0"/>
<polygon points="340.35,395.30 343.50,398.20 340.35,401.10 337.20,398.20" fill="#fff" stroke="#000" stroke-width="1.0"/>
<polygon points="340.35,403.60 343.50,406.50 340.35,409.40 337.20,406.50" fill="#fff" stroke="#000" stroke-width="1.0"/>
<polygon points="340.35,417.00 343.50,419.90 340.35,422.80 337.20,419.90" fill="#fff" stroke="#000" stroke-width="1.0"/>
<polygon points="340.35,428.40 343.50,431.30 340.35,434.20 337.20,431.30" fill="#fff" stroke="#000" stroke-width="1.0"/>
<polygon points="340.35,433.10 343.50,436.00 340.35,438.90 337.20,436.00" fill="#fff" stroke="#000" stroke-width="1.0"/>
<polygon points="349.20,411.70 352.35,414.60 349.20,417.50 346.05,414.60" fill="#fff" stroke="#000" stroke-width="1.0"/>
<polygon points="349.20,430.10 352.35,433.00 349.20,435.90 346.05,433.00" fill="#fff" stroke="#000" stroke-width="1.0"/>
<polygon points="375.75,403.90 378.90,406.80 375.75,409.70 372.60,406.80" fill="#fff" stroke="#000" stroke-width="1.0"/>
<polygon points="375.75,434.70 378.90,437.60 375.75,440.50 372.60,437.60" fill="#fff" stroke="#000" stroke-width="1.0"/>
<polygon points="384.60,352.90 387.75,355.80 384.60,358.70 381.45,355.80" fill="#fff" stroke="#000" stroke-width="1.0"/>
<polygon points="384.60,387.10 387.75,390.00 384.60,392.90 381.45,390.00" fill="#fff" stroke="#000" stroke-width="1.0"/>
<polygon points="393.45,406.80 396.60,409.70 393.45,412.60 390.30,409.70" fill="#fff" stroke="#000" stroke-width="1.0"/>
<polygon points="402.30,412.10 405.45,415.00 402.30,417.90 399.15,415.00" fill="#fff" stroke="#000" stroke-width="1.0"/>
<polygon points="411.15,416.60 414.30,419.50 411.15,422.40 408.00,419.50" fill="#fff" stroke="#000" stroke-width="1.0"/>
<polygon points="437.70,346.50 440.85,349.40 437.70,352.30 434.55,349.40" fill="#fff" stroke="#000" stroke-width="1.0"/>
<polygon points="446.55,399.90 449.70,402.80 446.55,405.70 443.40,402.80" fill="#fff" stroke="#000" stroke-width="1.0"/>
<polygon points="455.40,432.80 458.55,435.70 455.40,438.60 452.25,435.70" fill="#fff" stroke="#000" stroke-width="1.0"/>
<polygon points="490.80,447.30 493.95,450.20 490.80,453.10 487.65,450.20" fill="#fff" stroke="#000" stroke-width="1.0"/>
</svg>
</body></html>
